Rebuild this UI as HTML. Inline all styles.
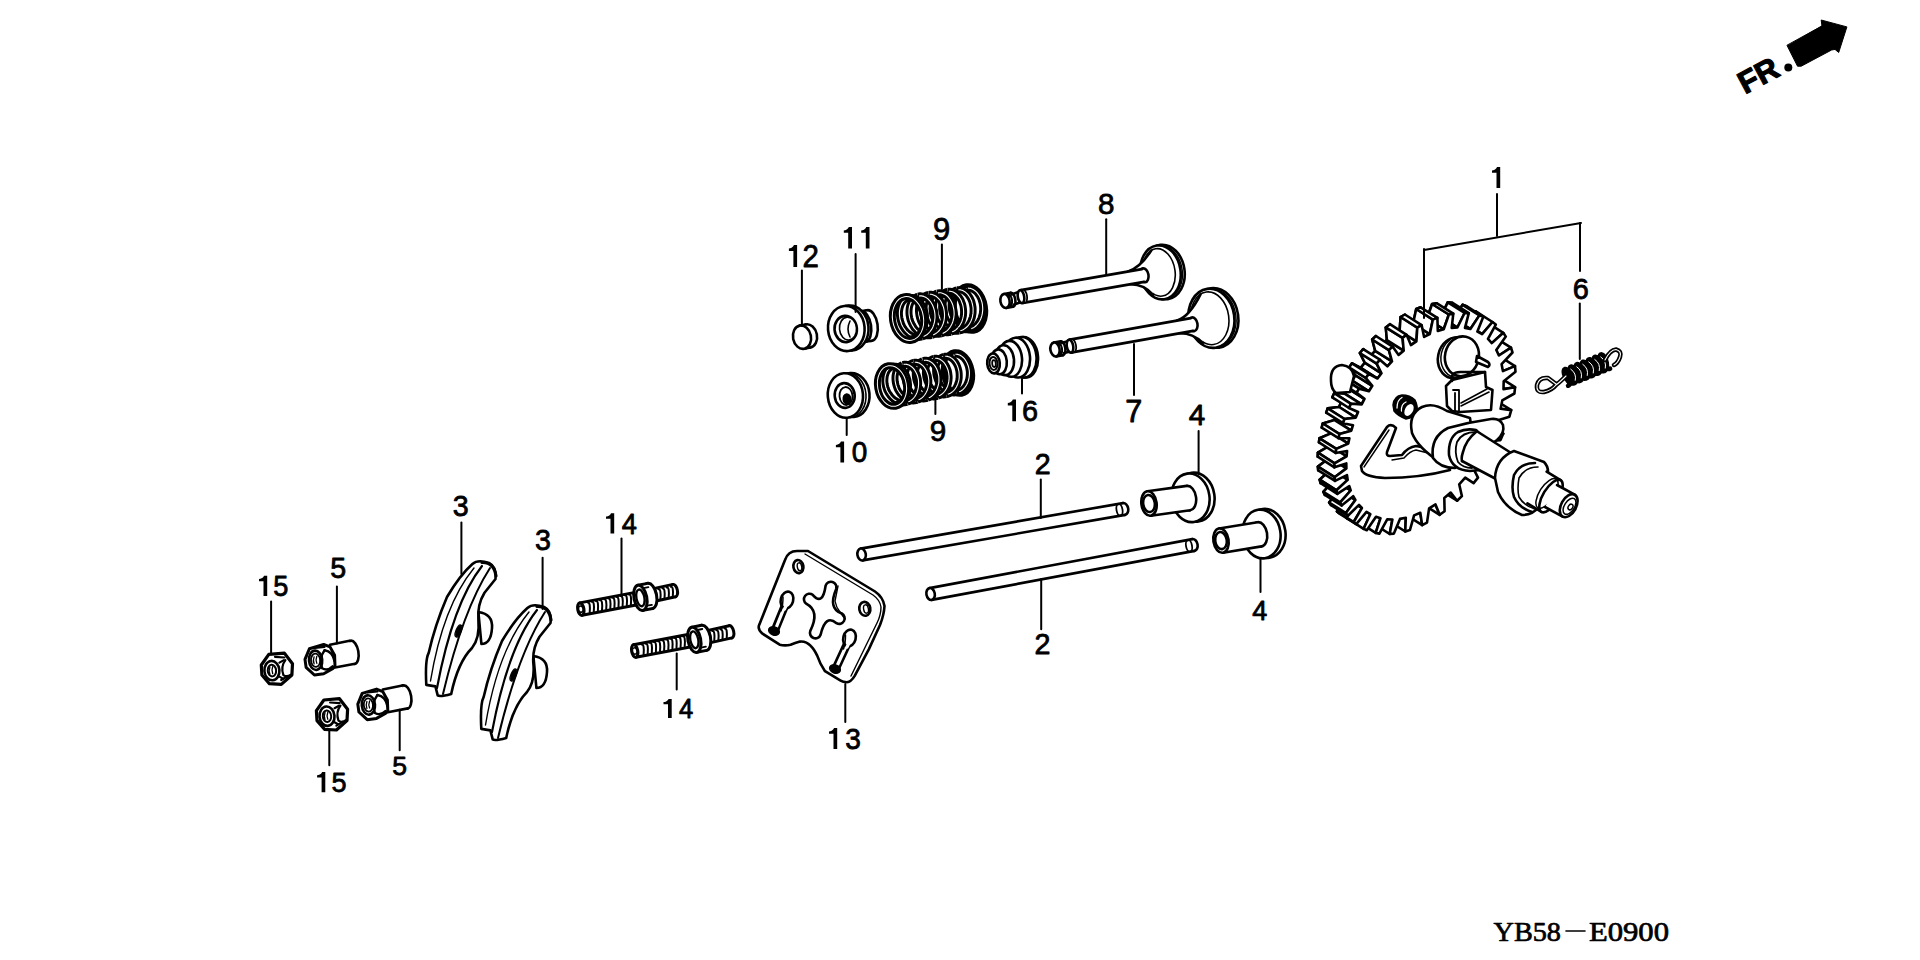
<!DOCTYPE html><html><head><meta charset="utf-8"><style>html,body{margin:0;padding:0;background:#fff;width:1920px;height:960px;overflow:hidden}svg{display:block;font-family:"Liberation Sans",sans-serif}</style></head><body>
<svg width="1920" height="960" viewBox="0 0 1920 960"><rect width="1920" height="960" fill="#fff"/>
<g fill="none" stroke="#000" stroke-linejoin="round" stroke-linecap="round">
<ellipse cx="1124" cy="509" rx="4.2" ry="6" transform="rotate(-9.8 1124 509)" fill="#fff" stroke-width="2.6"/>
<polygon points="862.6,560.4 1125,514.9 1123,503.1 860.6,548.6" fill="#fff" stroke="none"/>
<line x1="862.6" y1="560.4" x2="1125" y2="514.9" stroke-width="2.6"/>
<line x1="1123" y1="503.1" x2="860.6" y2="548.6" stroke-width="2.6"/>
<ellipse cx="861.6" cy="554.5" rx="4.2" ry="6" transform="rotate(-9.8 861.6 554.5)" fill="#fff" stroke-width="2.6"/>
<ellipse cx="1119.5" cy="509.8" rx="3" ry="6" transform="rotate(-9.8 1119.5 509.8)" fill="none" stroke-width="1.8"/>
<ellipse cx="1193.4" cy="545" rx="4.2" ry="6" transform="rotate(-10.6 1193.4 545)" fill="#fff" stroke-width="2.6"/>
<polygon points="931.7,599.9 1194.5,550.9 1192.3,539.1 929.5,588.1" fill="#fff" stroke="none"/>
<line x1="931.7" y1="599.9" x2="1194.5" y2="550.9" stroke-width="2.6"/>
<line x1="1192.3" y1="539.1" x2="929.5" y2="588.1" stroke-width="2.6"/>
<ellipse cx="930.6" cy="594" rx="4.2" ry="6" transform="rotate(-10.6 930.6 594)" fill="#fff" stroke-width="2.6"/>
<ellipse cx="1189" cy="545.9" rx="3" ry="6" transform="rotate(-10.6 1189 545.9)" fill="none" stroke-width="1.8"/>
<ellipse cx="1195" cy="497.2" rx="19.5" ry="24.6" transform="rotate(-8 1195 497.2)" fill="#fff" stroke-width="2.6"/>
<ellipse cx="1190.5" cy="497.8" rx="19" ry="24.4" transform="rotate(-8 1190.5 497.8)" fill="#fff" stroke-width="2.6"/>
<ellipse cx="1188.5" cy="498.1" rx="7.6" ry="12.3" transform="rotate(-7.8 1188.5 498.1)" fill="#fff" stroke-width="2.6"/>
<polygon points="1150.7,515.7 1190.2,510.3 1186.8,485.9 1147.3,491.3" fill="#fff" stroke="none"/>
<line x1="1150.7" y1="515.7" x2="1190.2" y2="510.3" stroke-width="2.6"/>
<line x1="1186.8" y1="485.9" x2="1147.3" y2="491.3" stroke-width="2.6"/>
<ellipse cx="1149" cy="503.5" rx="7.6" ry="12.3" transform="rotate(-7.8 1149 503.5)" fill="#fff" stroke-width="2.6"/>
<ellipse cx="1149" cy="503.5" rx="5.8" ry="8.6" transform="rotate(-8 1149 503.5)" fill="#fff" stroke-width="2.6"/>
<ellipse cx="1266" cy="533.4" rx="19.5" ry="24.6" transform="rotate(-8 1266 533.4)" fill="#fff" stroke-width="2.6"/>
<ellipse cx="1261.5" cy="534" rx="19" ry="24.4" transform="rotate(-8 1261.5 534)" fill="#fff" stroke-width="2.6"/>
<ellipse cx="1259.5" cy="534.3" rx="7.6" ry="12.3" transform="rotate(-9.3 1259.5 534.3)" fill="#fff" stroke-width="2.6"/>
<polygon points="1223,552.7 1261.5,546.4 1257.5,522.2 1219,528.5" fill="#fff" stroke="none"/>
<line x1="1223" y1="552.7" x2="1261.5" y2="546.4" stroke-width="2.6"/>
<line x1="1257.5" y1="522.2" x2="1219" y2="528.5" stroke-width="2.6"/>
<ellipse cx="1221" cy="540.6" rx="7.6" ry="12.3" transform="rotate(-9.3 1221 540.6)" fill="#fff" stroke-width="2.6"/>
<ellipse cx="1221" cy="540.6" rx="5.8" ry="8.6" transform="rotate(-8 1221 540.6)" fill="#fff" stroke-width="2.6"/>
<ellipse cx="674.3" cy="590.6" rx="3.1" ry="6.3" transform="rotate(-12.2 674.3 590.6)" fill="#fff" stroke-width="3"/>
<polygon points="645.6,603.3 675.6,596.8 673,584.4 643,590.9" fill="#fff" stroke="none"/>
<line x1="645.6" y1="603.3" x2="675.6" y2="596.8" stroke-width="3"/>
<line x1="673" y1="584.4" x2="643" y2="590.9" stroke-width="3"/>
<ellipse cx="644.3" cy="597.1" rx="3.1" ry="6.3" transform="rotate(-12.2 644.3 597.1)" fill="#fff" stroke-width="3"/>
<path d="M650.2 590.8 q2.9 -0.6 2 9.9" stroke-width="2"/>
<path d="M654.3 590 q2.9 -0.6 2 9.9" stroke-width="2"/>
<path d="M658.4 589.2 q2.9 -0.6 2 9.9" stroke-width="2"/>
<path d="M662.5 588.4 q2.9 -0.6 2 9.9" stroke-width="2"/>
<path d="M666.7 587.5 q2.9 -0.6 2 9.9" stroke-width="2"/>
<path d="M670.8 586.7 q2.9 -0.6 2 9.9" stroke-width="2"/>
<polygon points="582,615.3 645.5,603.3 643.1,590.9 579.6,602.9" fill="#fff" stroke="none"/>
<line x1="582" y1="615.3" x2="645.5" y2="603.3" stroke-width="3"/>
<line x1="643.1" y1="590.9" x2="579.6" y2="602.9" stroke-width="3"/>
<ellipse cx="580.8" cy="609.1" rx="3.1" ry="6.3" transform="rotate(-10.7 580.8 609.1)" fill="#fff" stroke-width="3"/>
<path d="M587.7 602.6 q2.9 -0.6 2 9.9" stroke-width="2"/>
<path d="M591.8 601.8 q2.9 -0.6 2 9.9" stroke-width="2"/>
<path d="M595.9 601 q2.9 -0.6 2 9.9" stroke-width="2"/>
<path d="M600 600.2 q2.9 -0.6 2 9.9" stroke-width="2"/>
<path d="M604.2 599.3 q2.9 -0.6 2 9.9" stroke-width="2"/>
<path d="M608.3 598.5 q2.9 -0.6 2 9.9" stroke-width="2"/>
<path d="M612.4 597.7 q2.9 -0.6 2 9.9" stroke-width="2"/>
<path d="M616.5 596.9 q2.9 -0.6 2 9.9" stroke-width="2"/>
<path d="M620.6 596.1 q2.9 -0.6 2 9.9" stroke-width="2"/>
<path d="M624.8 595.3 q2.9 -0.6 2 9.9" stroke-width="2"/>
<path d="M628.9 594.5 q2.9 -0.6 2 9.9" stroke-width="2"/>
<path d="M633 593.6 q2.9 -0.6 2 9.9" stroke-width="2"/>
<path d="M637.1 592.8 q2.9 -0.6 2 9.9" stroke-width="2"/>
<ellipse cx="580.8" cy="609.1" rx="2.2" ry="3.2" transform="rotate(-11.2 580.8 609.1)" fill="#fff" stroke-width="1.5"/>
<ellipse cx="650.2" cy="595.9" rx="6.4" ry="12.8" transform="rotate(-11.2 650.2 595.9)" fill="#fff" stroke-width="3"/>
<polygon points="642.9,610.4 652.7,608.5 647.7,583.4 637.9,585.3" fill="#fff" stroke="none"/>
<line x1="642.9" y1="610.4" x2="652.7" y2="608.5" stroke-width="3"/>
<line x1="647.7" y1="583.4" x2="637.9" y2="585.3" stroke-width="3"/>
<ellipse cx="640.4" cy="597.9" rx="6.4" ry="12.8" transform="rotate(-11.2 640.4 597.9)" fill="#fff" stroke-width="3"/>
<line x1="643.5" y1="588.1" x2="648.4" y2="587.1" stroke-width="1.8"/>
<line x1="647" y1="605.7" x2="651.9" y2="604.8" stroke-width="1.8"/>
<ellipse cx="640.4" cy="597.9" rx="4" ry="8.5" transform="rotate(-11.2 640.4 597.9)" fill="#fff" stroke-width="2.4"/>
<ellipse cx="730.6" cy="631.8" rx="3.1" ry="6.3" transform="rotate(-12.5 730.6 631.8)" fill="#fff" stroke-width="3"/>
<polygon points="699.6,645.1 732,637.9 729.2,625.7 696.8,632.9" fill="#fff" stroke="none"/>
<line x1="699.6" y1="645.1" x2="732" y2="637.9" stroke-width="3"/>
<line x1="729.2" y1="625.7" x2="696.8" y2="632.9" stroke-width="3"/>
<ellipse cx="698.2" cy="639" rx="3.1" ry="6.3" transform="rotate(-12.5 698.2 639)" fill="#fff" stroke-width="3"/>
<path d="M704.1 632.7 q2.9 -0.6 2 9.9" stroke-width="2"/>
<path d="M708.2 631.9 q2.9 -0.6 2 9.9" stroke-width="2"/>
<path d="M712.3 631 q2.9 -0.6 2 9.9" stroke-width="2"/>
<path d="M716.4 630.2 q2.9 -0.6 2 9.9" stroke-width="2"/>
<path d="M720.5 629.4 q2.9 -0.6 2 9.9" stroke-width="2"/>
<path d="M724.7 628.6 q2.9 -0.6 2 9.9" stroke-width="2"/>
<polygon points="635.9,657.2 699.4,645.2 697,632.8 633.5,644.8" fill="#fff" stroke="none"/>
<line x1="635.9" y1="657.2" x2="699.4" y2="645.2" stroke-width="3"/>
<line x1="697" y1="632.8" x2="633.5" y2="644.8" stroke-width="3"/>
<ellipse cx="634.7" cy="651" rx="3.1" ry="6.3" transform="rotate(-10.7 634.7 651)" fill="#fff" stroke-width="3"/>
<path d="M641.6 644.5 q2.9 -0.6 2 9.9" stroke-width="2"/>
<path d="M645.7 643.7 q2.9 -0.6 2 9.9" stroke-width="2"/>
<path d="M649.8 642.8 q2.9 -0.6 2 9.9" stroke-width="2"/>
<path d="M653.9 642 q2.9 -0.6 2 9.9" stroke-width="2"/>
<path d="M658 641.2 q2.9 -0.6 2 9.9" stroke-width="2"/>
<path d="M662.1 640.4 q2.9 -0.6 2 9.9" stroke-width="2"/>
<path d="M666.3 639.5 q2.9 -0.6 2 9.9" stroke-width="2"/>
<path d="M670.4 638.7 q2.9 -0.6 2 9.9" stroke-width="2"/>
<path d="M674.5 637.9 q2.9 -0.6 2 9.9" stroke-width="2"/>
<path d="M678.6 637.1 q2.9 -0.6 2 9.9" stroke-width="2"/>
<path d="M682.7 636.2 q2.9 -0.6 2 9.9" stroke-width="2"/>
<path d="M686.9 635.4 q2.9 -0.6 2 9.9" stroke-width="2"/>
<path d="M691 634.6 q2.9 -0.6 2 9.9" stroke-width="2"/>
<ellipse cx="634.7" cy="651" rx="2.2" ry="3.2" transform="rotate(-11.3 634.7 651)" fill="#fff" stroke-width="1.5"/>
<ellipse cx="704.1" cy="637.8" rx="6.4" ry="12.8" transform="rotate(-11.3 704.1 637.8)" fill="#fff" stroke-width="3"/>
<polygon points="696.8,652.3 706.6,650.4 701.6,625.3 691.8,627.2" fill="#fff" stroke="none"/>
<line x1="696.8" y1="652.3" x2="706.6" y2="650.4" stroke-width="3"/>
<line x1="701.6" y1="625.3" x2="691.8" y2="627.2" stroke-width="3"/>
<ellipse cx="694.3" cy="639.8" rx="6.4" ry="12.8" transform="rotate(-11.3 694.3 639.8)" fill="#fff" stroke-width="3"/>
<line x1="697.4" y1="630" x2="702.3" y2="629" stroke-width="1.8"/>
<line x1="700.9" y1="647.6" x2="705.9" y2="646.6" stroke-width="1.8"/>
<ellipse cx="694.3" cy="639.8" rx="4" ry="8.5" transform="rotate(-11.3 694.3 639.8)" fill="#fff" stroke-width="2.4"/>
<ellipse cx="1164" cy="272" rx="20.6" ry="27.4" transform="rotate(-8 1164 272)" fill="#fff" stroke-width="2.6"/>
<ellipse cx="1162.5" cy="272.2" rx="19.8" ry="26.8" transform="rotate(-8 1162.5 272.2)" fill="#fff" stroke-width="1.4"/>
<ellipse cx="1160.5" cy="272.4" rx="20.1" ry="27.1" transform="rotate(-8 1160.5 272.4)" fill="#fff" stroke-width="2.6"/>
<ellipse cx="1159" cy="272.4" rx="16.1" ry="23.9" transform="rotate(-8 1159 272.4)" fill="#fff" stroke-width="1.6"/>
<path d="M1128.1 271.5 Q1139.7 268.2 1151.2 250.5 L1153.2 294.9 Q1142.4 283.5 1130.3 284.3 Z" fill="#fff" stroke-width="0"/>
<path d="M1128.1 271.5 Q1140.6 267.3 1151.2 250.5 M1130.3 284.3 Q1143.5 284 1153.2 294.9" stroke-width="2.6"/>
<ellipse cx="1144" cy="275.3" rx="4.5" ry="7" transform="rotate(-9.8 1144 275.3)" fill="#fff" stroke-width="2.6"/>
<polygon points="1023.1,302.9 1144.1,281.9 1141.9,269.1 1020.9,290.1" fill="#fff" stroke="none"/>
<line x1="1023.1" y1="302.9" x2="1144.1" y2="281.9" stroke-width="2.6"/>
<line x1="1141.9" y1="269.1" x2="1020.9" y2="290.1" stroke-width="2.6"/>
<ellipse cx="1022" cy="296.5" rx="3.6" ry="6.5" transform="rotate(-9.8 1022 296.5)" fill="#fff" stroke-width="2.6"/>
<ellipse cx="1024" cy="296.2" rx="3" ry="6.5" transform="rotate(-9.8 1024 296.2)" fill="#fff" stroke-width="1.8"/>
<polygon points="1013.6,304.7 1022.7,301.6 1019.3,291.8 1010.2,294.9" fill="#fff" stroke="none"/>
<line x1="1013.6" y1="304.7" x2="1022.7" y2="301.6" stroke-width="2.6"/>
<line x1="1019.3" y1="291.8" x2="1010.2" y2="294.9" stroke-width="2.6"/>
<ellipse cx="1021" cy="296.7" rx="3.2" ry="6.5" transform="rotate(-9.8 1021 296.7)" fill="#fff" stroke-width="2.6"/>
<polygon points="1006.2,307.9 1013.1,306.7 1010.7,292.9 1003.8,294.1" fill="#fff" stroke="none"/>
<line x1="1006.2" y1="307.9" x2="1013.1" y2="306.7" stroke-width="2.6"/>
<line x1="1010.7" y1="292.9" x2="1003.8" y2="294.1" stroke-width="2.6"/>
<ellipse cx="1011.9" cy="299.8" rx="3.4" ry="7" transform="rotate(-9.8 1011.9 299.8)" fill="none" stroke-width="2.6"/>
<ellipse cx="1008.4" cy="300.4" rx="3.6" ry="6.6" transform="rotate(-9.8 1008.4 300.4)" fill="none" stroke-width="2"/>
<ellipse cx="1005" cy="301" rx="4.6" ry="7" transform="rotate(-9.8 1005 301)" fill="#fff" stroke-width="2.6"/>
<ellipse cx="1214.9" cy="317.9" rx="23.4" ry="30" transform="rotate(-8 1214.9 317.9)" fill="#fff" stroke-width="2.6"/>
<ellipse cx="1213.4" cy="318.1" rx="22.6" ry="29.4" transform="rotate(-8 1213.4 318.1)" fill="#fff" stroke-width="1.4"/>
<ellipse cx="1211.4" cy="318.3" rx="22.9" ry="29.7" transform="rotate(-8 1211.4 318.3)" fill="#fff" stroke-width="2.6"/>
<ellipse cx="1209.9" cy="318.3" rx="18.9" ry="26.5" transform="rotate(-8 1209.9 318.3)" fill="#fff" stroke-width="1.6"/>
<path d="M1177.1 320.5 Q1188.7 317.2 1200.5 294.3 L1202.9 342.9 Q1191.4 332.5 1179.4 333.3 Z" fill="#fff" stroke-width="0"/>
<path d="M1177.1 320.5 Q1189.5 316.4 1200.5 294.3 M1179.4 333.3 Q1192.5 333 1202.9 342.9" stroke-width="2.6"/>
<ellipse cx="1193" cy="324.3" rx="4.5" ry="7" transform="rotate(-10.1 1193 324.3)" fill="#fff" stroke-width="2.6"/>
<polygon points="1072.1,352.4 1193.1,330.9 1190.9,318.1 1069.9,339.6" fill="#fff" stroke="none"/>
<line x1="1072.1" y1="352.4" x2="1193.1" y2="330.9" stroke-width="2.6"/>
<line x1="1190.9" y1="318.1" x2="1069.9" y2="339.6" stroke-width="2.6"/>
<ellipse cx="1071" cy="346" rx="3.6" ry="6.5" transform="rotate(-10.1 1071 346)" fill="#fff" stroke-width="2.6"/>
<ellipse cx="1073" cy="345.7" rx="3" ry="6.5" transform="rotate(-10.1 1073 345.7)" fill="#fff" stroke-width="1.8"/>
<polygon points="1063.2,353.3 1071.3,351.2 1068.7,341.1 1060.6,343.2" fill="#fff" stroke="none"/>
<line x1="1063.2" y1="353.3" x2="1071.3" y2="351.2" stroke-width="2.6"/>
<line x1="1068.7" y1="341.1" x2="1060.6" y2="343.2" stroke-width="2.6"/>
<ellipse cx="1070" cy="346.2" rx="3.2" ry="6.5" transform="rotate(-10.1 1070 346.2)" fill="#fff" stroke-width="2.6"/>
<polygon points="1056.2,356.4 1063.1,355.2 1060.7,341.4 1053.8,342.6" fill="#fff" stroke="none"/>
<line x1="1056.2" y1="356.4" x2="1063.1" y2="355.2" stroke-width="2.6"/>
<line x1="1060.7" y1="341.4" x2="1053.8" y2="342.6" stroke-width="2.6"/>
<ellipse cx="1061.9" cy="348.3" rx="3.4" ry="7" transform="rotate(-10.1 1061.9 348.3)" fill="none" stroke-width="2.6"/>
<ellipse cx="1058.4" cy="348.9" rx="3.6" ry="6.6" transform="rotate(-10.1 1058.4 348.9)" fill="none" stroke-width="2"/>
<ellipse cx="1055" cy="349.5" rx="4.6" ry="7" transform="rotate(-10.1 1055 349.5)" fill="#fff" stroke-width="2.6"/>
<ellipse cx="970" cy="308.5" rx="15.5" ry="23" transform="rotate(-9 970 308.5)" fill="#fff" stroke-width="5"/>
<polyline points="908.3,297.8 907.2,298.2 906.1,298.7 905.1,299.5 904.1,300.3 903.2,301.3 902.4,302.4 901.7,303.6 901.1,304.9 900.5,306.4 900.1,307.9 899.8,309.4 899.5,311.1 899.4,312.8 899.4,314.5 899.6,316.3 899.8,318 900.2,319.8 900.7,321.5 901.2,323.2 901.9,324.9 902.7,326.5 903.6,328 904.6,329.4 905.7,330.8 906.8,332 908.1,333.2 909.4,334.2 910.7,335.1 912.1,335.8 913.5,336.4 915,336.9 916.4,337.2 917.9,337.4 919.4,337.4 920.8,337.2 922.2,336.9" stroke-width="7" stroke-linecap="butt"/>
<polyline points="907.2,298.2 906.1,298.7 905.1,299.5 904.1,300.3 903.2,301.3 902.4,302.4 901.7,303.6 901.1,304.9 900.5,306.4 900.1,307.9 899.8,309.4 899.5,311.1 899.4,312.8 899.4,314.5 899.6,316.3 899.8,318 900.2,319.8 900.7,321.5 901.2,323.2 901.9,324.9 902.7,326.5 903.6,328 904.6,329.4 905.7,330.8 906.8,332 908.1,333.2 909.4,334.2 910.7,335.1 912.1,335.8 913.5,336.4 915,336.9 916.4,337.2 917.9,337.4 919.4,337.4 920.8,337.2" stroke="#fff" stroke-width="1.1" stroke-linecap="butt"/>
<polyline points="917.9,296.2 916.8,296.6 915.7,297.2 914.6,297.9 913.7,298.8 912.8,299.7 912,300.8 911.2,302.1 910.6,303.4 910.1,304.8 909.6,306.3 909.3,307.9 909.1,309.6 909,311.2 909,313 909.1,314.7 909.4,316.5 909.7,318.2 910.2,320 910.8,321.7 911.5,323.3 912.3,324.9 913.2,326.4 914.1,327.9 915.2,329.2 916.4,330.5 917.6,331.6 918.9,332.7 920.2,333.5 921.6,334.3 923,334.9 924.5,335.4 926,335.7 927.4,335.8 928.9,335.8 930.3,335.7 931.8,335.4" stroke-width="7" stroke-linecap="butt"/>
<polyline points="916.8,296.6 915.7,297.2 914.6,297.9 913.7,298.8 912.8,299.7 912,300.8 911.2,302.1 910.6,303.4 910.1,304.8 909.6,306.3 909.3,307.9 909.1,309.6 909,311.2 909,313 909.1,314.7 909.4,316.5 909.7,318.2 910.2,320 910.8,321.7 911.5,323.3 912.3,324.9 913.2,326.4 914.1,327.9 915.2,329.2 916.4,330.5 917.6,331.6 918.9,332.7 920.2,333.5 921.6,334.3 923,334.9 924.5,335.4 926,335.7 927.4,335.8 928.9,335.8 930.3,335.7" stroke="#fff" stroke-width="1.1" stroke-linecap="butt"/>
<polyline points="928.6,294.4 927.4,294.7 926.3,295.1 925.2,295.7 924.2,296.4 923.2,297.2 922.3,298.2 921.5,299.3 920.8,300.5 920.1,301.9 919.6,303.3 919.2,304.8 918.8,306.4 918.6,308 918.5,309.7 918.5,311.4 918.7,313.2 918.9,314.9 919.3,316.7 919.7,318.4 920.3,320.1 921,321.8 921.8,323.4 922.7,324.9 923.7,326.4 924.8,327.7 925.9,329 927.1,330.1 928.4,331.1 929.8,332 931.2,332.7 932.6,333.4 934,333.8 935.5,334.1 937,334.3 938.4,334.3 939.9,334.1 941.3,333.8" stroke-width="7" stroke-linecap="butt"/>
<polyline points="927.4,294.7 926.3,295.1 925.2,295.7 924.2,296.4 923.2,297.2 922.3,298.2 921.5,299.3 920.8,300.5 920.1,301.9 919.6,303.3 919.2,304.8 918.8,306.4 918.6,308 918.5,309.7 918.5,311.4 918.7,313.2 918.9,314.9 919.3,316.7 919.7,318.4 920.3,320.1 921,321.8 921.8,323.4 922.7,324.9 923.7,326.4 924.8,327.7 925.9,329 927.1,330.1 928.4,331.1 929.8,332 931.2,332.7 932.6,333.4 934,333.8 935.5,334.1 937,334.3 938.4,334.3 939.9,334.1" stroke="#fff" stroke-width="1.1" stroke-linecap="butt"/>
<polyline points="937,293.1 935.8,293.6 934.8,294.1 933.7,294.8 932.8,295.7 931.9,296.7 931,297.8 930.3,299 929.7,300.3 929.1,301.7 928.7,303.3 928.4,304.8 928.2,306.5 928,308.2 928.1,309.9 928.2,311.6 928.4,313.4 928.8,315.1 929.3,316.9 929.9,318.6 930.5,320.2 931.3,321.8 932.2,323.4 933.2,324.8 934.3,326.2 935.5,327.4 936.7,328.6 938,329.6 939.3,330.5 940.7,331.2 942.1,331.8 943.6,332.3 945,332.6 946.5,332.7 948,332.7 949.4,332.6 950.8,332.3" stroke-width="7" stroke-linecap="butt"/>
<polyline points="935.8,293.6 934.8,294.1 933.7,294.8 932.8,295.7 931.9,296.7 931,297.8 930.3,299 929.7,300.3 929.1,301.7 928.7,303.3 928.4,304.8 928.2,306.5 928,308.2 928.1,309.9 928.2,311.6 928.4,313.4 928.8,315.1 929.3,316.9 929.9,318.6 930.5,320.2 931.3,321.8 932.2,323.4 933.2,324.8 934.3,326.2 935.5,327.4 936.7,328.6 938,329.6 939.3,330.5 940.7,331.2 942.1,331.8 943.6,332.3 945,332.6 946.5,332.7 948,332.7 949.4,332.6" stroke="#fff" stroke-width="1.1" stroke-linecap="butt"/>
<polyline points="947.7,291.3 946.5,291.6 945.4,292 944.3,292.6 943.3,293.3 942.3,294.1 941.4,295.1 940.6,296.2 939.9,297.5 939.2,298.8 938.7,300.2 938.2,301.7 937.9,303.3 937.7,304.9 937.6,306.6 937.6,308.4 937.7,310.1 938,311.9 938.3,313.6 938.8,315.3 939.4,317 940.1,318.7 940.9,320.3 941.8,321.8 942.8,323.3 943.8,324.6 945,325.9 946.2,327 947.5,328 948.8,328.9 950.2,329.7 951.7,330.3 953.1,330.7 954.6,331 956,331.2 957.5,331.2 959,331" stroke-width="7" stroke-linecap="butt"/>
<polyline points="946.5,291.6 945.4,292 944.3,292.6 943.3,293.3 942.3,294.1 941.4,295.1 940.6,296.2 939.9,297.5 939.2,298.8 938.7,300.2 938.2,301.7 937.9,303.3 937.7,304.9 937.6,306.6 937.6,308.4 937.7,310.1 938,311.9 938.3,313.6 938.8,315.3 939.4,317 940.1,318.7 940.9,320.3 941.8,321.8 942.8,323.3 943.8,324.6 945,325.9 946.2,327 947.5,328 948.8,328.9 950.2,329.7 951.7,330.3 953.1,330.7 954.6,331 956,331.2 957.5,331.2" stroke="#fff" stroke-width="1.1" stroke-linecap="butt"/>
<polyline points="957.2,289.8 956,290.1 954.9,290.5 953.8,291.1 952.8,291.8 951.8,292.6 950.9,293.6 950.1,294.7 949.4,295.9 948.8,297.2 948.2,298.7 947.8,300.2 947.4,301.8 947.2,303.4 947.1,305.1 947.1,306.8 947.3,308.6 947.5,310.3 947.9,312.1 948.3,313.8 948.9,315.5 949.6,317.2 950.4,318.8 951.3,320.3 952.3,321.7 953.4,323.1 954.5,324.3 955.8,325.5 957,326.5 958.4,327.4 959.8,328.1 961.2,328.7 962.6,329.2 964.1,329.5 965.6,329.7 967,329.7 968.5,329.5 969.9,329.2" stroke-width="7" stroke-linecap="butt"/>
<polyline points="956,290.1 954.9,290.5 953.8,291.1 952.8,291.8 951.8,292.6 950.9,293.6 950.1,294.7 949.4,295.9 948.8,297.2 948.2,298.7 947.8,300.2 947.4,301.8 947.2,303.4 947.1,305.1 947.1,306.8 947.3,308.6 947.5,310.3 947.9,312.1 948.3,313.8 948.9,315.5 949.6,317.2 950.4,318.8 951.3,320.3 952.3,321.7 953.4,323.1 954.5,324.3 955.8,325.5 957,326.5 958.4,327.4 959.8,328.1 961.2,328.7 962.6,329.2 964.1,329.5 965.6,329.7 967,329.7 968.5,329.5" stroke="#fff" stroke-width="1.1" stroke-linecap="butt"/>
<polyline points="966.7,288.3" stroke-width="7" stroke-linecap="butt"/>
<polyline points="966.7,288.3" stroke="#fff" stroke-width="1.1" stroke-linecap="butt"/>
<polyline points="911.3,338.7 912.7,338.4 914.1,338 915.4,337.4 916.7,336.6 918,335.7 919.1,334.7 920.2,333.5 921.2,332.3 922.1,330.9 922.9,329.4 923.6,327.9 924.2,326.3 924.7,324.6 925,322.9 925.3,321.1 925.4,319.3 925.5,317.5 925.4,315.7 925.2,313.9 924.8,312.2 924.4,310.5 923.9,308.8 923.2,307.3 922.5,305.8 921.7,304.4 920.8,303.1 919.9,301.9 918.8,300.8 917.8,299.9 916.6,299.1 915.5,298.5 914.3,298 913.1,297.6 911.9,297.4 910.7,297.4 909.5,297.5 908.3,297.8" stroke-width="7" stroke-linecap="butt"/>
<polyline points="912.7,338.4 914.1,338 915.4,337.4 916.7,336.6 918,335.7 919.1,334.7 920.2,333.5 921.2,332.3 922.1,330.9 922.9,329.4 923.6,327.9 924.2,326.3 924.7,324.6 925,322.9 925.3,321.1 925.4,319.3 925.5,317.5 925.4,315.7 925.2,313.9 924.8,312.2 924.4,310.5 923.9,308.8 923.2,307.3 922.5,305.8 921.7,304.4 920.8,303.1 919.9,301.9 918.8,300.8 917.8,299.9 916.6,299.1 915.5,298.5 914.3,298 913.1,297.6 911.9,297.4 910.7,297.4 909.5,297.5" stroke="#fff" stroke-width="1.1" stroke-linecap="butt"/>
<polyline points="922.2,336.9 923.6,336.4 925,335.8 926.3,335.1 927.5,334.2 928.6,333.2 929.7,332 930.7,330.7 931.6,329.4 932.4,327.9 933.1,326.4 933.7,324.7 934.2,323 934.6,321.3 934.8,319.5 935,317.8 935,316 934.9,314.2 934.7,312.4 934.4,310.6 933.9,308.9 933.4,307.3 932.8,305.7 932.1,304.2 931.2,302.8 930.4,301.5 929.4,300.4 928.4,299.3 927.3,298.4 926.2,297.6 925,296.9 923.8,296.4 922.6,296.1 921.4,295.9 920.2,295.8 919,296 917.9,296.2" stroke-width="7" stroke-linecap="butt"/>
<polyline points="923.6,336.4 925,335.8 926.3,335.1 927.5,334.2 928.6,333.2 929.7,332 930.7,330.7 931.6,329.4 932.4,327.9 933.1,326.4 933.7,324.7 934.2,323 934.6,321.3 934.8,319.5 935,317.8 935,316 934.9,314.2 934.7,312.4 934.4,310.6 933.9,308.9 933.4,307.3 932.8,305.7 932.1,304.2 931.2,302.8 930.4,301.5 929.4,300.4 928.4,299.3 927.3,298.4 926.2,297.6 925,296.9 923.8,296.4 922.6,296.1 921.4,295.9 920.2,295.8 919,296" stroke="#fff" stroke-width="1.1" stroke-linecap="butt"/>
<polyline points="931.8,335.4 933.2,334.9 934.5,334.3 935.8,333.5 937,332.6 938.2,331.6 939.3,330.5 940.3,329.2 941.2,327.8 942,326.4 942.7,324.8 943.3,323.2 943.8,321.5 944.1,319.8 944.4,318 944.5,316.2 944.5,314.4 944.4,312.6 944.2,310.8 943.9,309.1 943.5,307.4 942.9,305.8 942.3,304.2 941.6,302.7 940.8,301.3 939.9,300 938.9,298.8 937.9,297.8 936.8,296.8 935.7,296 934.6,295.4 933.4,294.9 932.2,294.5 931,294.3 929.8,294.3 928.6,294.4" stroke-width="7" stroke-linecap="butt"/>
<polyline points="933.2,334.9 934.5,334.3 935.8,333.5 937,332.6 938.2,331.6 939.3,330.5 940.3,329.2 941.2,327.8 942,326.4 942.7,324.8 943.3,323.2 943.8,321.5 944.1,319.8 944.4,318 944.5,316.2 944.5,314.4 944.4,312.6 944.2,310.8 943.9,309.1 943.5,307.4 942.9,305.8 942.3,304.2 941.6,302.7 940.8,301.3 939.9,300 938.9,298.8 937.9,297.8 936.8,296.8 935.7,296 934.6,295.4 933.4,294.9 932.2,294.5 931,294.3 929.8,294.3" stroke="#fff" stroke-width="1.1" stroke-linecap="butt"/>
<polyline points="941.3,333.8 942.7,333.4 944,332.7 945.3,332 946.6,331.1 947.7,330.1 948.8,328.9 949.8,327.7 950.7,326.3 951.5,324.8 952.2,323.3 952.8,321.7 953.3,320 953.7,318.2 953.9,316.5 954.1,314.7 954.1,312.9 954,311.1 953.8,309.3 953.4,307.6 953,305.9 952.5,304.2 951.9,302.7 951.1,301.2 950.3,299.8 949.4,298.5 948.5,297.3 947.5,296.2 946.4,295.3 945.3,294.5 944.1,293.9 942.9,293.4 941.7,293 940.5,292.8 939.3,292.8 938.1,292.9 937,293.1" stroke-width="7" stroke-linecap="butt"/>
<polyline points="942.7,333.4 944,332.7 945.3,332 946.6,331.1 947.7,330.1 948.8,328.9 949.8,327.7 950.7,326.3 951.5,324.8 952.2,323.3 952.8,321.7 953.3,320 953.7,318.2 953.9,316.5 954.1,314.7 954.1,312.9 954,311.1 953.8,309.3 953.4,307.6 953,305.9 952.5,304.2 951.9,302.7 951.1,301.2 950.3,299.8 949.4,298.5 948.5,297.3 947.5,296.2 946.4,295.3 945.3,294.5 944.1,293.9 942.9,293.4 941.7,293 940.5,292.8 939.3,292.8 938.1,292.9" stroke="#fff" stroke-width="1.1" stroke-linecap="butt"/>
<polyline points="950.8,332.3 952.2,331.8 953.6,331.2 954.9,330.5 956.1,329.6 957.3,328.5 958.3,327.4 959.3,326.1 960.2,324.8 961,323.3 961.8,321.7 962.3,320.1 962.8,318.4 963.2,316.7 963.5,314.9 963.6,313.1 963.6,311.3 963.5,309.5 963.3,307.8 963,306 962.6,304.3 962,302.7 961.4,301.1 960.7,299.6 959.9,298.2 959,296.9 958,295.8 957,294.7 955.9,293.8 954.8,293 953.6,292.3 952.4,291.8 951.2,291.5 950,291.3 948.8,291.2 947.7,291.3" stroke-width="7" stroke-linecap="butt"/>
<polyline points="952.2,331.8 953.6,331.2 954.9,330.5 956.1,329.6 957.3,328.5 958.3,327.4 959.3,326.1 960.2,324.8 961,323.3 961.8,321.7 962.3,320.1 962.8,318.4 963.2,316.7 963.5,314.9 963.6,313.1 963.6,311.3 963.5,309.5 963.3,307.8 963,306 962.6,304.3 962,302.7 961.4,301.1 960.7,299.6 959.9,298.2 959,296.9 958,295.8 957,294.7 955.9,293.8 954.8,293 953.6,292.3 952.4,291.8 951.2,291.5 950,291.3 948.8,291.2" stroke="#fff" stroke-width="1.1" stroke-linecap="butt"/>
<polyline points="959,331 960.4,330.7 961.8,330.3 963.1,329.7 964.4,328.9 965.6,328 966.8,327 967.9,325.9 968.9,324.6 969.8,323.2 970.6,321.8 971.3,320.2 971.9,318.6 972.4,316.9 972.7,315.2 973,313.4 973.1,311.6 973.1,309.8 973.1,308 972.8,306.2 972.5,304.5 972.1,302.8 971.6,301.1 970.9,299.6 970.2,298.1 969.4,296.7 968.5,295.4 967.6,294.2 966.5,293.2 965.5,292.2 964.3,291.4 963.2,290.8 962,290.3 960.8,289.9 959.6,289.7 958.4,289.7 957.2,289.8" stroke-width="7" stroke-linecap="butt"/>
<polyline points="960.4,330.7 961.8,330.3 963.1,329.7 964.4,328.9 965.6,328 966.8,327 967.9,325.9 968.9,324.6 969.8,323.2 970.6,321.8 971.3,320.2 971.9,318.6 972.4,316.9 972.7,315.2 973,313.4 973.1,311.6 973.1,309.8 973.1,308 972.8,306.2 972.5,304.5 972.1,302.8 971.6,301.1 970.9,299.6 970.2,298.1 969.4,296.7 968.5,295.4 967.6,294.2 966.5,293.2 965.5,292.2 964.3,291.4 963.2,290.8 962,290.3 960.8,289.9 959.6,289.7 958.4,289.7" stroke="#fff" stroke-width="1.1" stroke-linecap="butt"/>
<polyline points="969.9,329.2 971.3,328.7 972.7,328.1 974,327.4 975.2,326.5 976.3,325.5 977.4,324.3 978.4,323 979.3,321.7 980.1,320.2 980.8,318.7 981.4,317 981.9,315.4 982.3,313.6 982.5,311.9 982.7,310.1 982.7,308.3 982.6,306.5 982.4,304.7 982.1,302.9 981.6,301.2 981.1,299.6 980.5,298 979.7,296.5 978.9,295.1 978,293.9 977.1,292.7 976.1,291.6 975,290.7 973.9,289.9 972.7,289.2 971.5,288.7 970.3,288.4 969.1,288.2 967.9,288.1 966.7,288.3" stroke-width="7" stroke-linecap="butt"/>
<polyline points="971.3,328.7 972.7,328.1 974,327.4 975.2,326.5 976.3,325.5 977.4,324.3 978.4,323 979.3,321.7 980.1,320.2 980.8,318.7 981.4,317 981.9,315.4 982.3,313.6 982.5,311.9 982.7,310.1 982.7,308.3 982.6,306.5 982.4,304.7 982.1,302.9 981.6,301.2 981.1,299.6 980.5,298 979.7,296.5 978.9,295.1 978,293.9 977.1,292.7 976.1,291.6 975,290.7 973.9,289.9 972.7,289.2 971.5,288.7 970.3,288.4 969.1,288.2 967.9,288.1" stroke="#fff" stroke-width="1.1" stroke-linecap="butt"/>
<ellipse cx="908" cy="318.5" rx="15.5" ry="22" transform="rotate(-9 908 318.5)" fill="none" stroke-width="7"/>
<ellipse cx="908" cy="318.5" rx="15.5" ry="22" transform="rotate(-9 908 318.5)" stroke="#fff" stroke-width="1" fill="none"/>
<ellipse cx="958" cy="373" rx="14.4" ry="21.5" transform="rotate(-10 958 373)" fill="#fff" stroke-width="5"/>
<polyline points="892.4,366.6 891.3,367.1 890.4,367.6 889.5,368.3 888.6,369.1 887.8,370 887.1,371.1 886.5,372.2 886,373.5 885.6,374.8 885.2,376.2 885,377.7 884.9,379.2 884.8,380.8 884.9,382.4 885.1,384 885.4,385.6 885.8,387.2 886.3,388.8 886.9,390.4 887.7,391.9 888.5,393.3 889.4,394.7 890.4,396 891.4,397.2 892.5,398.3 893.7,399.4 895,400.2 896.3,401 897.6,401.7 898.9,402.2 900.3,402.6 901.7,402.8 903.1,402.9 904.5,402.8 905.8,402.6 907.2,402.3" stroke-width="7" stroke-linecap="butt"/>
<polyline points="891.3,367.1 890.4,367.6 889.5,368.3 888.6,369.1 887.8,370 887.1,371.1 886.5,372.2 886,373.5 885.6,374.8 885.2,376.2 885,377.7 884.9,379.2 884.8,380.8 884.9,382.4 885.1,384 885.4,385.6 885.8,387.2 886.3,388.8 886.9,390.4 887.7,391.9 888.5,393.3 889.4,394.7 890.4,396 891.4,397.2 892.5,398.3 893.7,399.4 895,400.2 896.3,401 897.6,401.7 898.9,402.2 900.3,402.6 901.7,402.8 903.1,402.9 904.5,402.8 905.8,402.6" stroke="#fff" stroke-width="1.1" stroke-linecap="butt"/>
<polyline points="902.5,364.6 901.5,365.1 900.5,365.6 899.6,366.3 898.8,367.1 898,368 897.3,369.1 896.7,370.2 896.1,371.5 895.7,372.8 895.4,374.2 895.1,375.7 895,377.2 895,378.8 895.1,380.4 895.3,382 895.6,383.6 896,385.2 896.5,386.8 897.1,388.4 897.8,389.9 898.6,391.3 899.5,392.7 900.5,394 901.6,395.2 902.7,396.3 903.9,397.4 905.1,398.2 906.4,399 907.7,399.7 909.1,400.2 910.5,400.6 911.9,400.8 913.2,400.9 914.6,400.8 916,400.6 917.3,400.3" stroke-width="7" stroke-linecap="butt"/>
<polyline points="901.5,365.1 900.5,365.6 899.6,366.3 898.8,367.1 898,368 897.3,369.1 896.7,370.2 896.1,371.5 895.7,372.8 895.4,374.2 895.1,375.7 895,377.2 895,378.8 895.1,380.4 895.3,382 895.6,383.6 896,385.2 896.5,386.8 897.1,388.4 897.8,389.9 898.6,391.3 899.5,392.7 900.5,394 901.6,395.2 902.7,396.3 903.9,397.4 905.1,398.2 906.4,399 907.7,399.7 909.1,400.2 910.5,400.6 911.9,400.8 913.2,400.9 914.6,400.8 916,400.6" stroke="#fff" stroke-width="1.1" stroke-linecap="butt"/>
<polyline points="913.7,362.4 912.7,362.6 911.7,363.1 910.7,363.6 909.8,364.3 908.9,365.1 908.2,366 907.5,367.1 906.8,368.2 906.3,369.5 905.9,370.8 905.5,372.2 905.3,373.7 905.2,375.2 905.1,376.8 905.2,378.4 905.4,380 905.7,381.6 906.1,383.2 906.6,384.8 907.3,386.4 908,387.9 908.8,389.3 909.7,390.7 910.7,392 911.7,393.2 912.8,394.3 914,395.4 915.3,396.2 916.6,397 917.9,397.7 919.3,398.2 920.6,398.6 922,398.8 923.4,398.9 924.8,398.8 926.1,398.6 927.5,398.3" stroke-width="7" stroke-linecap="butt"/>
<polyline points="912.7,362.6 911.7,363.1 910.7,363.6 909.8,364.3 908.9,365.1 908.2,366 907.5,367.1 906.8,368.2 906.3,369.5 905.9,370.8 905.5,372.2 905.3,373.7 905.2,375.2 905.1,376.8 905.2,378.4 905.4,380 905.7,381.6 906.1,383.2 906.6,384.8 907.3,386.4 908,387.9 908.8,389.3 909.7,390.7 910.7,392 911.7,393.2 912.8,394.3 914,395.4 915.3,396.2 916.6,397 917.9,397.7 919.3,398.2 920.6,398.6 922,398.8 923.4,398.9 924.8,398.8 926.1,398.6" stroke="#fff" stroke-width="1.1" stroke-linecap="butt"/>
<polyline points="922.8,360.6 921.8,361.1 920.8,361.6 919.9,362.3 919.1,363.1 918.3,364 917.6,365.1 917,366.2 916.5,367.5 916,368.8 915.7,370.2 915.4,371.7 915.3,373.2 915.3,374.8 915.4,376.4 915.6,378 915.9,379.6 916.3,381.2 916.8,382.8 917.4,384.4 918.1,385.9 918.9,387.3 919.8,388.7 920.8,390 921.9,391.2 923,392.3 924.2,393.4 925.4,394.2 926.7,395 928.1,395.7 929.4,396.2 930.8,396.6 932.2,396.8 933.6,396.9 934.9,396.8 936.3,396.6 937.6,396.3" stroke-width="7" stroke-linecap="butt"/>
<polyline points="921.8,361.1 920.8,361.6 919.9,362.3 919.1,363.1 918.3,364 917.6,365.1 917,366.2 916.5,367.5 916,368.8 915.7,370.2 915.4,371.7 915.3,373.2 915.3,374.8 915.4,376.4 915.6,378 915.9,379.6 916.3,381.2 916.8,382.8 917.4,384.4 918.1,385.9 918.9,387.3 919.8,388.7 920.8,390 921.9,391.2 923,392.3 924.2,393.4 925.4,394.2 926.7,395 928.1,395.7 929.4,396.2 930.8,396.6 932.2,396.8 933.6,396.9 934.9,396.8 936.3,396.6" stroke="#fff" stroke-width="1.1" stroke-linecap="butt"/>
<polyline points="934,358.4 933,358.6 932,359.1 931,359.6 930.1,360.3 929.2,361.1 928.5,362 927.8,363.1 927.1,364.2 926.6,365.5 926.2,366.8 925.8,368.2 925.6,369.7 925.5,371.2 925.4,372.8 925.5,374.4 925.7,376 926,377.6 926.4,379.2 926.9,380.8 927.6,382.4 928.3,383.9 929.1,385.3 930,386.7 931,388 932,389.2 933.2,390.3 934.3,391.4 935.6,392.2 936.9,393 938.2,393.7 939.6,394.2 940.9,394.6 942.3,394.8 943.7,394.9 945.1,394.8 946.4,394.6" stroke-width="7" stroke-linecap="butt"/>
<polyline points="933,358.6 932,359.1 931,359.6 930.1,360.3 929.2,361.1 928.5,362 927.8,363.1 927.1,364.2 926.6,365.5 926.2,366.8 925.8,368.2 925.6,369.7 925.5,371.2 925.4,372.8 925.5,374.4 925.7,376 926,377.6 926.4,379.2 926.9,380.8 927.6,382.4 928.3,383.9 929.1,385.3 930,386.7 931,388 932,389.2 933.2,390.3 934.3,391.4 935.6,392.2 936.9,393 938.2,393.7 939.6,394.2 940.9,394.6 942.3,394.8 943.7,394.9 945.1,394.8" stroke="#fff" stroke-width="1.1" stroke-linecap="butt"/>
<polyline points="944.2,356.4 943.1,356.6 942.1,357.1 941.2,357.6 940.2,358.3 939.4,359.1 938.6,360 937.9,361.1 937.3,362.2 936.8,363.5 936.3,364.8 936,366.2 935.8,367.7 935.6,369.2 935.6,370.8 935.7,372.4 935.9,374 936.2,375.6 936.6,377.2 937.1,378.8 937.7,380.4 938.4,381.9 939.2,383.3 940.1,384.7 941.1,386 942.2,387.2 943.3,388.3 944.5,389.4 945.7,390.2 947,391 948.4,391.7 949.7,392.2 951.1,392.6 952.5,392.8 953.9,392.9 955.2,392.8 956.6,392.6 957.9,392.3" stroke-width="7" stroke-linecap="butt"/>
<polyline points="943.1,356.6 942.1,357.1 941.2,357.6 940.2,358.3 939.4,359.1 938.6,360 937.9,361.1 937.3,362.2 936.8,363.5 936.3,364.8 936,366.2 935.8,367.7 935.6,369.2 935.6,370.8 935.7,372.4 935.9,374 936.2,375.6 936.6,377.2 937.1,378.8 937.7,380.4 938.4,381.9 939.2,383.3 940.1,384.7 941.1,386 942.2,387.2 943.3,388.3 944.5,389.4 945.7,390.2 947,391 948.4,391.7 949.7,392.2 951.1,392.6 952.5,392.8 953.9,392.9 955.2,392.8 956.6,392.6" stroke="#fff" stroke-width="1.1" stroke-linecap="butt"/>
<polyline points="954.3,354.4" stroke-width="7" stroke-linecap="butt"/>
<polyline points="954.3,354.4" stroke="#fff" stroke-width="1.1" stroke-linecap="butt"/>
<polyline points="895.7,404.6 897,404.3 898.3,403.8 899.5,403.2 900.7,402.5 901.9,401.6 902.9,400.6 903.9,399.5 904.8,398.3 905.6,397 906.3,395.6 907,394.2 907.5,392.6 907.9,391.1 908.2,389.4 908.4,387.8 908.5,386.1 908.5,384.4 908.3,382.8 908.1,381.1 907.8,379.5 907.3,378 906.8,376.5 906.2,375 905.5,373.7 904.7,372.4 903.9,371.2 903,370.1 902,369.2 901,368.4 899.9,367.7 898.9,367.1 897.8,366.7 896.7,366.4 895.6,366.2 894.5,366.2 893.4,366.4 892.4,366.6" stroke-width="7" stroke-linecap="butt"/>
<polyline points="897,404.3 898.3,403.8 899.5,403.2 900.7,402.5 901.9,401.6 902.9,400.6 903.9,399.5 904.8,398.3 905.6,397 906.3,395.6 907,394.2 907.5,392.6 907.9,391.1 908.2,389.4 908.4,387.8 908.5,386.1 908.5,384.4 908.3,382.8 908.1,381.1 907.8,379.5 907.3,378 906.8,376.5 906.2,375 905.5,373.7 904.7,372.4 903.9,371.2 903,370.1 902,369.2 901,368.4 899.9,367.7 898.9,367.1 897.8,366.7 896.7,366.4 895.6,366.2 894.5,366.2 893.4,366.4" stroke="#fff" stroke-width="1.1" stroke-linecap="butt"/>
<polyline points="907.2,402.3 908.4,401.8 909.7,401.2 910.9,400.5 912,399.6 913.1,398.6 914.1,397.5 915,396.3 915.8,395 916.5,393.6 917.1,392.2 917.6,390.6 918,389.1 918.3,387.4 918.5,385.8 918.6,384.1 918.6,382.4 918.5,380.8 918.3,379.1 917.9,377.5 917.5,376 917,374.5 916.3,373 915.6,371.7 914.9,370.4 914,369.2 913.1,368.1 912.2,367.2 911.1,366.4 910.1,365.7 909,365.1 907.9,364.7 906.8,364.4 905.7,364.2 904.6,364.2 903.6,364.4 902.5,364.6" stroke-width="7" stroke-linecap="butt"/>
<polyline points="908.4,401.8 909.7,401.2 910.9,400.5 912,399.6 913.1,398.6 914.1,397.5 915,396.3 915.8,395 916.5,393.6 917.1,392.2 917.6,390.6 918,389.1 918.3,387.4 918.5,385.8 918.6,384.1 918.6,382.4 918.5,380.8 918.3,379.1 917.9,377.5 917.5,376 917,374.5 916.3,373 915.6,371.7 914.9,370.4 914,369.2 913.1,368.1 912.2,367.2 911.1,366.4 910.1,365.7 909,365.1 907.9,364.7 906.8,364.4 905.7,364.2 904.6,364.2 903.6,364.4" stroke="#fff" stroke-width="1.1" stroke-linecap="butt"/>
<polyline points="917.3,400.3 918.6,399.8 919.8,399.2 921,398.5 922.2,397.6 923.2,396.6 924.2,395.5 925.1,394.3 925.9,393 926.6,391.6 927.3,390.2 927.8,388.6 928.2,387.1 928.5,385.4 928.7,383.8 928.8,382.1 928.8,380.4 928.6,378.8 928.4,377.1 928.1,375.5 927.6,374 927.1,372.5 926.5,371 925.8,369.7 925,368.4 924.2,367.2 923.3,366.1 922.3,365.2 921.3,364.4 920.3,363.7 919.2,363.1 918.1,362.7 917,362.4 915.9,362.2 914.8,362.2 913.7,362.4" stroke-width="7" stroke-linecap="butt"/>
<polyline points="918.6,399.8 919.8,399.2 921,398.5 922.2,397.6 923.2,396.6 924.2,395.5 925.1,394.3 925.9,393 926.6,391.6 927.3,390.2 927.8,388.6 928.2,387.1 928.5,385.4 928.7,383.8 928.8,382.1 928.8,380.4 928.6,378.8 928.4,377.1 928.1,375.5 927.6,374 927.1,372.5 926.5,371 925.8,369.7 925,368.4 924.2,367.2 923.3,366.1 922.3,365.2 921.3,364.4 920.3,363.7 919.2,363.1 918.1,362.7 917,362.4 915.9,362.2 914.8,362.2" stroke="#fff" stroke-width="1.1" stroke-linecap="butt"/>
<polyline points="927.5,398.3 928.8,397.8 930,397.2 931.2,396.5 932.3,395.6 933.4,394.6 934.4,393.5 935.3,392.3 936.1,391 936.8,389.6 937.4,388.2 937.9,386.6 938.3,385.1 938.7,383.4 938.9,381.8 938.9,380.1 938.9,378.4 938.8,376.8 938.6,375.1 938.2,373.5 937.8,372 937.3,370.5 936.7,369 936,367.7 935.2,366.4 934.3,365.2 933.4,364.1 932.5,363.2 931.5,362.4 930.4,361.7 929.3,361.1 928.2,360.7 927.1,360.4 926,360.2 924.9,360.2 923.9,360.4 922.8,360.6" stroke-width="7" stroke-linecap="butt"/>
<polyline points="928.8,397.8 930,397.2 931.2,396.5 932.3,395.6 933.4,394.6 934.4,393.5 935.3,392.3 936.1,391 936.8,389.6 937.4,388.2 937.9,386.6 938.3,385.1 938.7,383.4 938.9,381.8 938.9,380.1 938.9,378.4 938.8,376.8 938.6,375.1 938.2,373.5 937.8,372 937.3,370.5 936.7,369 936,367.7 935.2,366.4 934.3,365.2 933.4,364.1 932.5,363.2 931.5,362.4 930.4,361.7 929.3,361.1 928.2,360.7 927.1,360.4 926,360.2 924.9,360.2 923.9,360.4" stroke="#fff" stroke-width="1.1" stroke-linecap="butt"/>
<polyline points="937.6,396.3 938.9,395.8 940.2,395.2 941.3,394.5 942.5,393.6 943.5,392.6 944.5,391.5 945.4,390.3 946.2,389 947,387.6 947.6,386.2 948.1,384.6 948.5,383.1 948.8,381.4 949,379.8 949.1,378.1 949.1,376.4 948.9,374.8 948.7,373.1 948.4,371.5 948,370 947.4,368.5 946.8,367 946.1,365.7 945.3,364.4 944.5,363.2 943.6,362.1 942.6,361.2 941.6,360.4 940.6,359.7 939.5,359.1 938.4,358.7 937.3,358.4 936.2,358.2 935.1,358.2 934,358.4" stroke-width="7" stroke-linecap="butt"/>
<polyline points="938.9,395.8 940.2,395.2 941.3,394.5 942.5,393.6 943.5,392.6 944.5,391.5 945.4,390.3 946.2,389 947,387.6 947.6,386.2 948.1,384.6 948.5,383.1 948.8,381.4 949,379.8 949.1,378.1 949.1,376.4 948.9,374.8 948.7,373.1 948.4,371.5 948,370 947.4,368.5 946.8,367 946.1,365.7 945.3,364.4 944.5,363.2 943.6,362.1 942.6,361.2 941.6,360.4 940.6,359.7 939.5,359.1 938.4,358.7 937.3,358.4 936.2,358.2 935.1,358.2" stroke="#fff" stroke-width="1.1" stroke-linecap="butt"/>
<polyline points="946.4,394.6 947.8,394.3 949.1,393.8 950.3,393.2 951.5,392.5 952.6,391.6 953.7,390.6 954.7,389.5 955.6,388.3 956.4,387 957.1,385.6 957.7,384.2 958.2,382.6 958.7,381.1 959,379.4 959.2,377.8 959.2,376.1 959.2,374.4 959.1,372.8 958.9,371.1 958.5,369.5 958.1,368 957.6,366.5 957,365 956.3,363.7 955.5,362.4 954.6,361.2 953.7,360.1 952.8,359.2 951.8,358.4 950.7,357.7 949.6,357.1 948.5,356.7 947.4,356.4 946.3,356.2 945.2,356.2 944.2,356.4" stroke-width="7" stroke-linecap="butt"/>
<polyline points="947.8,394.3 949.1,393.8 950.3,393.2 951.5,392.5 952.6,391.6 953.7,390.6 954.7,389.5 955.6,388.3 956.4,387 957.1,385.6 957.7,384.2 958.2,382.6 958.7,381.1 959,379.4 959.2,377.8 959.2,376.1 959.2,374.4 959.1,372.8 958.9,371.1 958.5,369.5 958.1,368 957.6,366.5 957,365 956.3,363.7 955.5,362.4 954.6,361.2 953.7,360.1 952.8,359.2 951.8,358.4 950.7,357.7 949.6,357.1 948.5,356.7 947.4,356.4 946.3,356.2 945.2,356.2" stroke="#fff" stroke-width="1.1" stroke-linecap="butt"/>
<polyline points="957.9,392.3 959.2,391.8 960.5,391.2 961.7,390.5 962.8,389.6 963.8,388.6 964.8,387.5 965.7,386.3 966.5,385 967.3,383.6 967.9,382.2 968.4,380.6 968.8,379.1 969.1,377.4 969.3,375.8 969.4,374.1 969.4,372.4 969.3,370.8 969,369.1 968.7,367.5 968.3,366 967.7,364.5 967.1,363 966.4,361.7 965.6,360.4 964.8,359.2 963.9,358.1 962.9,357.2 961.9,356.4 960.9,355.7 959.8,355.1 958.7,354.7 957.6,354.4 956.5,354.2 955.4,354.2 954.3,354.4" stroke-width="7" stroke-linecap="butt"/>
<polyline points="959.2,391.8 960.5,391.2 961.7,390.5 962.8,389.6 963.8,388.6 964.8,387.5 965.7,386.3 966.5,385 967.3,383.6 967.9,382.2 968.4,380.6 968.8,379.1 969.1,377.4 969.3,375.8 969.4,374.1 969.4,372.4 969.3,370.8 969,369.1 968.7,367.5 968.3,366 967.7,364.5 967.1,363 966.4,361.7 965.6,360.4 964.8,359.2 963.9,358.1 962.9,357.2 961.9,356.4 960.9,355.7 959.8,355.1 958.7,354.7 957.6,354.4 956.5,354.2 955.4,354.2" stroke="#fff" stroke-width="1.1" stroke-linecap="butt"/>
<ellipse cx="892" cy="386" rx="14.4" ry="20.5" transform="rotate(-10 892 386)" fill="none" stroke-width="7"/>
<ellipse cx="892" cy="386" rx="14.4" ry="20.5" transform="rotate(-10 892 386)" stroke="#fff" stroke-width="1" fill="none"/>
<ellipse cx="808" cy="336" rx="9" ry="11.8" transform="rotate(-11.3 808 336)" fill="#fff" stroke-width="2.6"/>
<polygon points="804.3,348.8 810.3,347.6 805.7,324.4 799.7,325.6" fill="#fff" stroke="none"/>
<line x1="804.3" y1="348.8" x2="810.3" y2="347.6" stroke-width="2.6"/>
<line x1="805.7" y1="324.4" x2="799.7" y2="325.6" stroke-width="2.6"/>
<ellipse cx="802" cy="337.2" rx="9" ry="11.8" transform="rotate(-11.3 802 337.2)" fill="#fff" stroke-width="2.6"/>
<ellipse cx="869.5" cy="325.5" rx="8.1" ry="15.5" transform="rotate(-8.7 869.5 325.5)" fill="#fff" stroke-width="2.6"/>
<polygon points="865.4,341.8 871.9,340.8 867.1,310.2 860.6,311.2" fill="#fff" stroke="none"/>
<line x1="865.4" y1="341.8" x2="871.9" y2="340.8" stroke-width="2.6"/>
<line x1="867.1" y1="310.2" x2="860.6" y2="311.2" stroke-width="2.6"/>
<ellipse cx="863" cy="326.5" rx="8.1" ry="15.5" transform="rotate(-8.7 863 326.5)" fill="#fff" stroke-width="2.6"/>
<ellipse cx="850.5" cy="328" rx="18" ry="22.5" transform="rotate(-5 850.5 328)" fill="#fff" stroke-width="2.6"/>
<ellipse cx="846.3" cy="328.5" rx="18.3" ry="22.6" transform="rotate(-5 846.3 328.5)" fill="#fff" stroke-width="2.6"/>
<ellipse cx="845.7" cy="329" rx="11.2" ry="13.2" transform="rotate(-5 845.7 329)" fill="#fff" stroke-width="2.6"/>
<ellipse cx="848" cy="328.6" rx="8.5" ry="11.5" transform="rotate(-5 848 328.6)" fill="#fff" stroke-width="1.6"/>
<path d="M850 321 Q846 329 850 337" stroke-width="1.6"/>
<ellipse cx="852" cy="395" rx="17.5" ry="22" transform="rotate(-5 852 395)" fill="#fff" stroke-width="2.6"/>
<ellipse cx="848.5" cy="395.3" rx="17.5" ry="22.2" transform="rotate(-5 848.5 395.3)" fill="#fff" stroke-width="1.6"/>
<ellipse cx="845.4" cy="395.5" rx="17.6" ry="22.3" transform="rotate(-5 845.4 395.5)" fill="#fff" stroke-width="2.6"/>
<ellipse cx="844.7" cy="395.5" rx="10" ry="12.4" transform="rotate(-5 844.7 395.5)" fill="#fff" stroke-width="2.6"/>
<ellipse cx="846" cy="396" rx="6.5" ry="9" transform="rotate(-5 846 396)" fill="#fff" stroke-width="1.8"/>
<ellipse cx="847" cy="399" rx="3.2" ry="4.5" transform="rotate(-5 847 399)" fill="#000" stroke-width="2.6"/>
<ellipse cx="1024.5" cy="357.3" rx="13.5" ry="20.3" transform="rotate(-5 1024.5 357.3)" fill="#fff" stroke-width="2.6"/>
<ellipse cx="1023" cy="357.3" rx="13.5" ry="20.3" transform="rotate(-5 1023 357.3)" fill="#fff" stroke-width="2.6"/>
<ellipse cx="1017" cy="357.6" rx="13" ry="20" transform="rotate(-5 1017 357.6)" fill="#fff" stroke-width="2.6"/>
<ellipse cx="1010.5" cy="358.8" rx="11.5" ry="18" transform="rotate(-5 1010.5 358.8)" fill="#fff" stroke-width="2.6"/>
<ellipse cx="1004.5" cy="360.2" rx="9.5" ry="15" transform="rotate(-5 1004.5 360.2)" fill="#fff" stroke-width="2.6"/>
<ellipse cx="999" cy="361.8" rx="7.8" ry="12.5" transform="rotate(-5 999 361.8)" fill="#fff" stroke-width="2.6"/>
<ellipse cx="993.5" cy="363.4" rx="6.3" ry="10" transform="rotate(-5 993.5 363.4)" fill="#fff" stroke-width="2.6"/>
<ellipse cx="993.5" cy="363.4" rx="4" ry="6.5" transform="rotate(-5 993.5 363.4)" fill="#fff" stroke-width="2"/>
<ellipse cx="994" cy="363.6" rx="1.8" ry="3.4" transform="rotate(-5 994 363.6)" fill="#fff" stroke-width="1.8"/>
<polygon points="261.3,665 268.8,654.4 284.4,653.1 292.5,663.7 291.9,675 281.3,684.4 269.4,683.7 261.9,675" fill="#fff" stroke-width="3.2"/>
<ellipse cx="271.9" cy="670.6" rx="7.5" ry="9.7" transform="rotate(-5 271.9 670.6)" fill="#fff" stroke-width="2.6"/>
<ellipse cx="271.9" cy="670.6" rx="4.2" ry="5.8" transform="rotate(-5 271.9 670.6)" fill="#fff" stroke-width="2"/>
<path d="M269.9 667.1 q-1.5 4 0 7 M272.7 666.6 q-1.5 4 0 7" stroke-width="1.3"/>
<path d="M275 656.9 L284.4 657.5" stroke-width="2.2"/>
<path d="M285.4 660.1 Q280.4 666.6 283.4 675.1 Q286.9 677.6 290.9 674.6" stroke-width="2.2"/>
<path d="M281.2 680 L287.5 676.2" stroke-width="2.2"/>
<path d="M279.4 662.6 L283.9 660.1 M279.4 676.6 L282.9 678.6" stroke-width="2.2"/>
<polygon points="316.4,710.6 323.9,700 339.5,698.7 347.6,709.3 347,720.6 336.4,730 324.5,729.3 317,720.6" fill="#fff" stroke-width="3.2"/>
<ellipse cx="327" cy="716.2" rx="7.5" ry="9.7" transform="rotate(-5 327 716.2)" fill="#fff" stroke-width="2.6"/>
<ellipse cx="327" cy="716.2" rx="4.2" ry="5.8" transform="rotate(-5 327 716.2)" fill="#fff" stroke-width="2"/>
<path d="M325 712.7 q-1.5 4 0 7 M327.8 712.2 q-1.5 4 0 7" stroke-width="1.3"/>
<path d="M330.1 702.5 L339.5 703.1" stroke-width="2.2"/>
<path d="M340.5 705.7 Q335.5 712.2 338.5 720.7 Q342 723.2 346 720.2" stroke-width="2.2"/>
<path d="M336.4 725.6 L342.6 721.9" stroke-width="2.2"/>
<path d="M334.5 708.2 L339 705.7 M334.5 722.2 L338 724.2" stroke-width="2.2"/>
<ellipse cx="352.6" cy="652.3" rx="5.8" ry="11.8" transform="rotate(-10 352.6 652.3)" fill="#fff" stroke-width="2.6"/>
<polygon points="330,644.7 349.4,640.9 355,663.7 335,667.5" fill="#fff" stroke="none"/>
<path d="M330 644.7 L349.6 640.7 M335 667.5 L355 663.7" stroke-width="2.6"/>
<polygon points="305,659.4 309.4,648.7 323.7,644.4 330,646.9 334.6,655.3 335,666.3 332.6,668.8 323.7,673.7 314.4,675 306.1,667.3" fill="#fff" stroke-width="3"/>
<ellipse cx="315.6" cy="660.3" rx="6.6" ry="9.7" transform="rotate(-5 315.6 660.3)" fill="#fff" stroke-width="2.6"/>
<ellipse cx="315.6" cy="660.3" rx="4.6" ry="6.6" transform="rotate(-5 315.6 660.3)" fill="#fff" stroke-width="1.8"/>
<path d="M314.1 656.8 q-1.5 4 0 7 M316.8 656.3 q-1.5 4 0 7" stroke-width="1.3"/>
<path d="M314.8 647.8 L324.6 646.8" stroke-width="2.2"/>
<path d="M324.6 650.3 Q318.6 658.3 322.1 668.3 Q327.6 671.3 332.6 666.3" stroke-width="2.4"/>
<path d="M324.6 650.3 Q332.6 651.3 334.6 661.3" stroke-width="2.4"/>
<ellipse cx="405.4" cy="697" rx="5.8" ry="11.8" transform="rotate(-10 405.4 697)" fill="#fff" stroke-width="2.6"/>
<polygon points="382.8,689.4 402.2,685.6 407.8,708.4 387.8,712.2" fill="#fff" stroke="none"/>
<path d="M382.8 689.4 L402.4 685.4 M387.8 712.2 L407.8 708.4" stroke-width="2.6"/>
<polygon points="357.8,704.1 362.2,693.4 376.5,689.1 382.8,691.6 387.4,700 387.8,711 385.4,713.5 376.5,718.4 367.2,719.7 358.9,712" fill="#fff" stroke-width="3"/>
<ellipse cx="368.4" cy="705" rx="6.6" ry="9.7" transform="rotate(-5 368.4 705)" fill="#fff" stroke-width="2.6"/>
<ellipse cx="368.4" cy="705" rx="4.6" ry="6.6" transform="rotate(-5 368.4 705)" fill="#fff" stroke-width="1.8"/>
<path d="M366.9 701.5 q-1.5 4 0 7 M369.6 701 q-1.5 4 0 7" stroke-width="1.3"/>
<path d="M367.6 692.5 L377.4 691.5" stroke-width="2.2"/>
<path d="M377.4 695 Q371.4 703 374.9 713 Q380.4 716 385.4 711" stroke-width="2.4"/>
<path d="M377.4 695 Q385.4 696 387.4 706" stroke-width="2.4"/>
<polygon points="1453.6,318.4 1462.6,304.8 1466.5,306.2 1460.6,321 1465.3,323.6 1475.8,311.4 1479.1,314 1471.2,328.3 1475,332.5 1486.5,322.2 1489,326 1479.5,339.3 1482.1,344.9 1494.2,337.1 1495.8,341.9 1484.9,353.6 1486.2,360.5 1498.3,355.5 1498.7,361.2 1487,370.7 1486.8,378.5 1498.4,376.7 1497.7,382.9 1485.5,389.8 1483.9,398.2 1494.4,399.5 1492.6,406.1 1480.6,410 1477.5,418.6 1486.6,423 1483.7,429.5 1472.4,430.3 1468.1,438.6 1475.3,445.8 1471.6,452 1461.5,449.7 1456.2,457.3 1461.2,467 1456.9,472.5 1448.4,467.1 1442.5,473.7 1445.1,485.5 1440.4,490.1 1433.9,482 1427.6,487.4 1427.9,500.7 1422.9,504.3 1418.7,493.8 1412.3,497.8 1410.3,512.1 1405.4,514.5 1403.5,502.3 1397.3,504.8 1393.2,519.5 1388.5,520.9 1389,507.2 1383.2,508.3 1377.1,523 1372.9,523.4 1375.6,508.9 1370.4,508.7 1362.7,523 1358.9,522.3 1363.7,507.6 1359.2,506.3 1350.1,519.7 1346.9,518.2 1353.5,503.7 1349.8,501.3 1339.5,513.6 1337,511.4 1345.2,497.4 1342.2,494.3 1331.1,505.2 1329.2,502.5 1338.7,489.4 1336.5,485.6 1324.8,494.9 1323.4,491.8 1334,479.9 1332.5,475.6 1320.6,483.2 1319.7,479.7 1331,469.3 1330.2,464.6 1318.2,470.4 1317.9,466.6 1329.6,457.8 1329.5,452.8 1317.7,456.7 1317.9,452.7 1329.8,445.7 1330.4,440.4 1318.9,442.4 1319.5,438.3 1331.5,433.1 1332.6,427.7 1321.7,427.7 1322.8,423.5 1334.6,420.1 1336.3,414.6 1326.2,412.6 1327.7,408.4 1339.1,407 1341.4,401.5 1332.3,397.4 1334.2,393.2 1344.9,393.8 1347.8,388.3 1339.9,382.3 1342.3,378.1 1352.1,380.7 1355.6,375.3 1349.1,367.4 1352,363.3 1360.7,367.9 1364.8,362.7 1359.9,353 1363.2,349.1 1370.7,355.7 1375.2,350.9 1372.2,339.5 1375.9,336 1381.9,344.4 1386.9,340.1 1385.8,327.4 1389.9,324.2 1394.2,334.5 1399.6,330.8 1400.6,317 1404.9,314.5 1407.4,326.3 1413.1,323.5 1416.2,309 1420.6,307.3 1421.1,320.4 1426.9,318.7 1432.1,304 1436.6,303.2 1434.9,317.3 1440.6,316.9 1447.8,302.4 1452.1,302.7 1448.3,317.4" fill="#fff" stroke-width="2.6"/>
<polygon points="1494.3,429.2 1503.3,433.6 1486.6,423 1477.5,418.6" fill="#fff" stroke-width="2.6"/>
<polygon points="1457.1,500.7 1450.7,492.6 1433.9,482 1440.4,490.1" fill="#fff" stroke-width="2.6"/>
<polygon points="1500.6,408.8 1511.2,410.1 1494.4,399.5 1483.9,398.2" fill="#fff" stroke-width="2.6"/>
<polygon points="1439.7,514.8 1435.5,504.4 1418.7,493.8 1422.9,504.3" fill="#fff" stroke-width="2.6"/>
<polygon points="1503.5,389.1 1515.1,387.2 1498.4,376.7 1486.8,378.5" fill="#fff" stroke-width="2.6"/>
<polygon points="1422.2,525.1 1420.3,512.8 1403.5,502.3 1405.4,514.5" fill="#fff" stroke-width="2.6"/>
<polygon points="1502.9,371.1 1515,366.1 1498.3,355.5 1486.2,360.5" fill="#fff" stroke-width="2.6"/>
<polygon points="1405.3,531.5 1405.8,517.8 1389,507.2 1388.5,520.9" fill="#fff" stroke-width="2.6"/>
<polygon points="1498.9,355.5 1511,347.7 1494.2,337.1 1482.1,344.9" fill="#fff" stroke-width="2.6"/>
<polygon points="1389.7,534 1392.4,519.5 1375.6,508.9 1372.9,523.4" fill="#fff" stroke-width="2.6"/>
<polygon points="1491.8,343.1 1503.3,332.8 1486.5,322.2 1475,332.5" fill="#fff" stroke-width="2.6"/>
<polygon points="1375.7,532.9 1380.5,518.2 1363.7,507.6 1358.9,522.3" fill="#fff" stroke-width="2.6"/>
<polygon points="1363.6,528.8 1370.3,514.2 1353.5,503.7 1346.9,518.2" fill="#fff" stroke-width="2.6"/>
<polygon points="1482.1,334.2 1492.5,322 1475.8,311.4 1465.3,323.6" fill="#fff" stroke-width="2.6"/>
<polygon points="1477.4,331.6 1482.1,334.2 1465.3,323.6 1460.6,321" fill="#fff" stroke-width="2.6"/>
<polygon points="1356.3,524.1 1353.7,522 1337,511.4 1339.5,513.6" fill="#fff" stroke-width="2.6"/>
<polygon points="1353.7,522 1361.9,508 1345.2,497.4 1337,511.4" fill="#fff" stroke-width="2.6"/>
<polygon points="1479.4,315.4 1483.3,316.8 1466.5,306.2 1462.6,304.8" fill="#fff" stroke-width="2.6"/>
<polygon points="1361.9,508 1359,504.9 1342.2,494.3 1345.2,497.4" fill="#fff" stroke-width="2.6"/>
<polygon points="1470.4,329 1479.4,315.4 1462.6,304.8 1453.6,318.4" fill="#fff" stroke-width="2.6"/>
<polygon points="1465,327.9 1470.4,329 1453.6,318.4 1448.3,317.4" fill="#fff" stroke-width="2.6"/>
<polygon points="1347.9,515.7 1345.9,513 1329.2,502.5 1331.1,505.2" fill="#fff" stroke-width="2.6"/>
<polygon points="1345.9,513 1355.4,500 1338.7,489.4 1329.2,502.5" fill="#fff" stroke-width="2.6"/>
<polygon points="1355.4,500 1353.2,496.2 1336.5,485.6 1338.7,489.4" fill="#fff" stroke-width="2.6"/>
<polygon points="1464.6,313 1468.8,313.2 1452.1,302.7 1447.8,302.4" fill="#fff" stroke-width="2.6"/>
<polygon points="1457.4,327.5 1464.6,313 1447.8,302.4 1440.6,316.9" fill="#fff" stroke-width="2.6"/>
<polygon points="1451.7,327.9 1457.4,327.5 1440.6,316.9 1434.9,317.3" fill="#fff" stroke-width="2.6"/>
<polygon points="1341.6,505.5 1340.2,502.3 1323.4,491.8 1324.8,494.9" fill="#fff" stroke-width="2.6"/>
<polygon points="1340.2,502.3 1350.7,490.5 1334,479.9 1323.4,491.8" fill="#fff" stroke-width="2.6"/>
<polygon points="1350.7,490.5 1349.3,486.2 1332.5,475.6 1334,479.9" fill="#fff" stroke-width="2.6"/>
<polygon points="1443.7,329.3 1448.9,314.5 1432.1,304 1426.9,318.7" fill="#fff" stroke-width="2.6"/>
<polygon points="1448.9,314.5 1453.3,313.7 1436.6,303.2 1432.1,304" fill="#fff" stroke-width="2.6"/>
<polygon points="1437.8,331 1443.7,329.3 1426.9,318.7 1421.1,320.4" fill="#fff" stroke-width="2.6"/>
<polygon points="1347.7,479.9 1347,475.1 1330.2,464.6 1331,469.3" fill="#fff" stroke-width="2.6"/>
<polygon points="1336.5,490.3 1347.7,479.9 1331,469.3 1319.7,479.7" fill="#fff" stroke-width="2.6"/>
<polygon points="1337.3,493.8 1336.5,490.3 1319.7,479.7 1320.6,483.2" fill="#fff" stroke-width="2.6"/>
<polygon points="1346.4,468.4 1346.3,463.4 1329.5,452.8 1329.6,457.8" fill="#fff" stroke-width="2.6"/>
<polygon points="1334.6,477.2 1346.4,468.4 1329.6,457.8 1317.9,466.6" fill="#fff" stroke-width="2.6"/>
<polygon points="1424.1,336.9 1429.8,334.1 1413.1,323.5 1407.4,326.3" fill="#fff" stroke-width="2.6"/>
<polygon points="1429.8,334.1 1432.9,319.6 1416.2,309 1413.1,323.5" fill="#fff" stroke-width="2.6"/>
<polygon points="1335,480.9 1334.6,477.2 1317.9,466.6 1318.2,470.4" fill="#fff" stroke-width="2.6"/>
<polygon points="1432.9,319.6 1437.4,317.9 1420.6,307.3 1416.2,309" fill="#fff" stroke-width="2.6"/>
<polygon points="1346.6,456.3 1347.1,451 1330.4,440.4 1329.8,445.7" fill="#fff" stroke-width="2.6"/>
<polygon points="1334.6,463.3 1346.6,456.3 1329.8,445.7 1317.9,452.7" fill="#fff" stroke-width="2.6"/>
<polygon points="1410.9,345.1 1416.4,341.4 1399.6,330.8 1394.2,334.5" fill="#fff" stroke-width="2.6"/>
<polygon points="1334.4,467.3 1334.6,463.3 1317.9,452.7 1317.7,456.7" fill="#fff" stroke-width="2.6"/>
<polygon points="1416.4,341.4 1417.3,327.6 1400.6,317 1399.6,330.8" fill="#fff" stroke-width="2.6"/>
<polygon points="1348.3,443.6 1349.4,438.2 1332.6,427.7 1331.5,433.1" fill="#fff" stroke-width="2.6"/>
<polygon points="1417.3,327.6 1421.6,325.1 1404.9,314.5 1400.6,317" fill="#fff" stroke-width="2.6"/>
<polygon points="1336.3,448.9 1348.3,443.6 1331.5,433.1 1319.5,438.3" fill="#fff" stroke-width="2.6"/>
<polygon points="1398.6,355 1403.7,350.7 1386.9,340.1 1381.9,344.4" fill="#fff" stroke-width="2.6"/>
<polygon points="1351.3,430.7 1353,425.2 1336.3,414.6 1334.6,420.1" fill="#fff" stroke-width="2.6"/>
<polygon points="1335.6,453 1336.3,448.9 1319.5,438.3 1318.9,442.4" fill="#fff" stroke-width="2.6"/>
<polygon points="1403.7,350.7 1402.6,337.9 1385.8,327.4 1386.9,340.1" fill="#fff" stroke-width="2.6"/>
<polygon points="1387.4,366.3 1392,361.4 1375.2,350.9 1370.7,355.7" fill="#fff" stroke-width="2.6"/>
<polygon points="1355.8,417.6 1358.1,412 1341.4,401.5 1339.1,407" fill="#fff" stroke-width="2.6"/>
<polygon points="1339.6,434.1 1351.3,430.7 1334.6,420.1 1322.8,423.5" fill="#fff" stroke-width="2.6"/>
<polygon points="1402.6,337.9 1406.6,334.8 1389.9,324.2 1385.8,327.4" fill="#fff" stroke-width="2.6"/>
<polygon points="1377.5,378.5 1381.5,373.3 1364.8,362.7 1360.7,367.9" fill="#fff" stroke-width="2.6"/>
<polygon points="1361.7,404.4 1364.5,398.9 1347.8,388.3 1344.9,393.8" fill="#fff" stroke-width="2.6"/>
<polygon points="1368.9,391.3 1372.3,385.9 1355.6,375.3 1352.1,380.7" fill="#fff" stroke-width="2.6"/>
<polygon points="1392,361.4 1388.9,350.1 1372.2,339.5 1375.2,350.9" fill="#fff" stroke-width="2.6"/>
<polygon points="1338.5,438.2 1339.6,434.1 1322.8,423.5 1321.7,427.7" fill="#fff" stroke-width="2.6"/>
<polygon points="1344.5,419 1355.8,417.6 1339.1,407 1327.7,408.4" fill="#fff" stroke-width="2.6"/>
<polygon points="1381.5,373.3 1376.7,363.6 1359.9,353 1364.8,362.7" fill="#fff" stroke-width="2.6"/>
<polygon points="1351,403.8 1361.7,404.4 1344.9,393.8 1334.2,393.2" fill="#fff" stroke-width="2.6"/>
<polygon points="1388.9,350.1 1392.6,346.6 1375.9,336 1372.2,339.5" fill="#fff" stroke-width="2.6"/>
<polygon points="1368.7,373.9 1377.5,378.5 1360.7,367.9 1352,363.3" fill="#fff" stroke-width="2.6"/>
<polygon points="1364.5,398.9 1356.6,392.9 1339.9,382.3 1347.8,388.3" fill="#fff" stroke-width="2.6"/>
<polygon points="1372.3,385.9 1365.9,378 1349.1,367.4 1355.6,375.3" fill="#fff" stroke-width="2.6"/>
<polygon points="1359.1,388.7 1368.9,391.3 1352.1,380.7 1342.3,378.1" fill="#fff" stroke-width="2.6"/>
<polygon points="1343,423.2 1344.5,419 1327.7,408.4 1326.2,412.6" fill="#fff" stroke-width="2.6"/>
<polygon points="1376.7,363.6 1379.9,359.7 1363.2,349.1 1359.9,353" fill="#fff" stroke-width="2.6"/>
<polygon points="1349,408 1351,403.8 1334.2,393.2 1332.3,397.4" fill="#fff" stroke-width="2.6"/>
<polygon points="1365.9,378 1368.7,373.9 1352,363.3 1349.1,367.4" fill="#fff" stroke-width="2.6"/>
<polygon points="1356.6,392.9 1359.1,388.7 1342.3,378.1 1339.9,382.3" fill="#fff" stroke-width="2.6"/>
<path d="M1331 381 Q1330 366 1342 365 Q1352 366 1354 376 L1350 392 L1336 393 Q1331 389 1331 381 Z" fill="#fff" stroke-width="2.6"/>
<polygon points="1470.4,329 1479.4,315.4 1483.3,316.8 1477.4,331.6 1482.1,334.2 1492.5,322 1495.8,324.6 1488,338.9 1491.8,343.1 1503.3,332.8 1505.8,336.6 1496.3,349.9 1498.9,355.5 1511,347.7 1512.5,352.5 1501.6,364.2 1502.9,371.1 1515,366.1 1515.5,371.8 1503.7,381.3 1503.5,389.1 1515.1,387.2 1514.4,393.5 1502.3,400.4 1500.6,408.8 1511.2,410.1 1509.4,416.7 1497.3,420.6 1494.3,429.2 1503.3,433.6 1500.5,440.1 1489.2,440.9 1484.9,449.2 1492,456.4 1488.3,462.6 1478.2,460.2 1473,467.9 1478,477.6 1473.6,483.1 1465.2,477.7 1459.2,484.3 1461.9,496.1 1457.1,500.7 1450.7,492.6 1444.3,498 1444.6,511.3 1439.7,514.8 1435.5,504.4 1429.1,508.4 1427,522.6 1422.2,525.1 1420.3,512.8 1414.1,515.4 1409.9,530.1 1405.3,531.5 1405.8,517.8 1400,518.9 1393.9,533.6 1389.7,534 1392.4,519.5 1387.2,519.3 1379.4,533.6 1375.7,532.9 1380.5,518.2 1376,516.8 1366.8,530.2 1363.6,528.8 1370.3,514.2 1366.5,511.9 1356.3,524.1 1353.7,522 1361.9,508 1359,504.9 1347.9,515.7 1345.9,513 1355.4,500 1353.2,496.2 1341.6,505.5 1340.2,502.3 1350.7,490.5 1349.3,486.2 1337.3,493.8 1336.5,490.3 1347.7,479.9 1347,475.1 1335,480.9 1334.6,477.2 1346.4,468.4 1346.3,463.4 1334.4,467.3 1334.6,463.3 1346.6,456.3 1347.1,451 1335.6,453 1336.3,448.9 1348.3,443.6 1349.4,438.2 1338.5,438.2 1339.6,434.1 1351.3,430.7 1353,425.2 1343,423.2 1344.5,419 1355.8,417.6 1358.1,412 1349,408 1351,403.8 1361.7,404.4 1364.5,398.9 1356.6,392.9 1359.1,388.7 1368.9,391.3 1372.3,385.9 1365.9,378 1368.7,373.9 1377.5,378.5 1381.5,373.3 1376.7,363.6 1379.9,359.7 1387.4,366.3 1392,361.4 1388.9,350.1 1392.6,346.6 1398.6,355 1403.7,350.7 1402.6,337.9 1406.6,334.8 1410.9,345.1 1416.4,341.4 1417.3,327.6 1421.6,325.1 1424.1,336.9 1429.8,334.1 1432.9,319.6 1437.4,317.9 1437.8,331 1443.7,329.3 1448.9,314.5 1453.3,313.7 1451.7,327.9 1457.4,327.5 1464.6,313 1468.8,313.2 1465,327.9" fill="#fff" stroke-width="2.6"/>
<ellipse cx="1455" cy="358" rx="17" ry="20.5" transform="rotate(12 1455 358)" fill="#fff" stroke-width="2.6"/>
<ellipse cx="1458" cy="357" rx="17" ry="20.5" transform="rotate(12 1458 357)" fill="#fff" stroke-width="1.5"/>
<ellipse cx="1461.9" cy="356.3" rx="16.9" ry="20" transform="rotate(12 1461.9 356.3)" fill="#fff" stroke-width="2.6"/>
<path d="M1477 356 L1488 362 Q1491 365 1488 367 L1476 362 Z" fill="#fff" stroke-width="2.6"/>
<path d="M1452 380 L1485 372 L1486 387 L1492.5 390 L1491 410 L1460 412 L1452 411 L1447 406 L1446 386 Z" fill="#fff" stroke-width="2.6"/>
<path d="M1452 381 Q1450 372 1460 372 L1485 372" fill="none" stroke-width="2.6"/>
<path d="M1461 403 L1487 389 M1461 406 L1489 392" stroke-width="1.6"/>
<path d="M1453 390 L1459 390 L1459 412 M1455 393 L1455 412" stroke-width="1.8"/>
<path d="M1393 405 Q1394 396 1402 395 Q1410 395 1415 400 Q1418 406 1417 412 Q1414 418 1406 419 Q1398 416 1394 411 Z" fill="#000" stroke-width="1.5"/>
<path d="M1397 408 Q1397 400 1402 397.5" stroke="#fff" stroke-width="1.3"/>
<path d="M1401.5 411 Q1401 404 1406 402" stroke="#fff" stroke-width="1.3"/>
<ellipse cx="1409" cy="410" rx="5.2" ry="7.6" transform="rotate(30 1409 410)" fill="#fff" stroke-width="2.4"/>
<path d="M1361 466 L1387 427 Q1391 423 1396 428 L1387 452 Q1386 456 1390 456 L1402 455 Q1408 447 1416 446 L1448 452 L1450 470 Q1420 478 1385 478 Q1366 477 1362 471 Z" fill="#fff" stroke-width="2.6"/>
<path d="M1364 467 L1389 430" stroke-width="1.4"/>
<path d="M1392 460 L1404 458 Q1410 451 1416 450 L1440 456" stroke-width="1.4"/>
<path d="M1412 433 Q1408 414 1422 407 Q1433 402 1447 411 L1470 418 L1475 455 L1440 462 Q1418 448 1412 433 Z" fill="#fff" stroke-width="2.6"/>
<path d="M1433 458 Q1430 437 1448 428 Q1470 422 1491 419 Q1500 418 1503 425 Q1505 433 1497 440 L1480 452 L1455 468 Q1440 468 1433 458 Z" fill="#fff" stroke-width="2.6"/>
<path d="M1470 471 Q1452 470 1449 455 Q1448 438 1458 432 Q1466 428 1476 430 L1490 445 L1480 470 Z" fill="#fff" stroke-width="2.6"/>
<path d="M1476 432 Q1462 432 1457 442 Q1454 452 1458 462 Q1463 468 1472 468" stroke-width="1.8"/>
<polygon points="1476.5,431 1512,453.5 1496,479 1462,461" fill="#fff" stroke="none"/>
<path d="M1476.5 431 L1512 453.5 M1462 461 L1496 479" stroke-width="2.6"/>
<path d="M1476 432 Q1466 440 1463 452 Q1461 458 1462 461" stroke-width="2.6"/>
<path d="M1495 478 Q1496 458 1514 451 L1544 462 Q1550 468 1547 478 L1540 505 Q1534 515 1522 515 Q1505 508 1498 492 Z" fill="#fff" stroke-width="2.6"/>
<path d="M1535 463 Q1520 463 1514 475 Q1511 488 1514 497 Q1519 508 1532 512" stroke-width="2.6"/>
<path d="M1538 467 Q1525 467 1519 478 Q1517 489 1519 497 Q1524 506 1535 509" stroke-width="1.6"/>
<polygon points="1560.6,480.2 1546.6,471.7 1527.4,503.3 1541.4,511.8" fill="#fff" stroke="none"/>
<line x1="1560.6" y1="480.2" x2="1546.6" y2="471.7" stroke-width="2.6"/>
<line x1="1527.4" y1="503.3" x2="1541.4" y2="511.8" stroke-width="2.6"/>
<ellipse cx="1551" cy="496" rx="7.8" ry="18.5" transform="rotate(-148.7 1551 496)" fill="#fff" stroke-width="2.6"/>
<ellipse cx="1547" cy="493.5" rx="7.5" ry="17" transform="rotate(32.6 1547 493.5)" fill="none" stroke-width="1.5"/>
<polygon points="1574.7,494.7 1557,485 1545,507 1562.7,516.7" fill="#fff" stroke="none"/>
<line x1="1574.7" y1="494.7" x2="1557" y2="485" stroke-width="2.6"/>
<line x1="1545" y1="507" x2="1562.7" y2="516.7" stroke-width="2.6"/>
<ellipse cx="1568.7" cy="505.7" rx="7.5" ry="12.5" transform="rotate(-151.3 1568.7 505.7)" fill="#fff" stroke-width="2.6"/>
<ellipse cx="1569.5" cy="506.3" rx="5" ry="9" transform="rotate(32.6 1569.5 506.3)" fill="#fff" stroke-width="1.5"/>
<ellipse cx="1570.5" cy="507" rx="2.2" ry="3" transform="rotate(32.6 1570.5 507)" fill="#fff" stroke-width="1.5"/>
<path d="M785 560 Q788 551 797 551 L808 551 L875 591.5 Q883 597 884.5 606 Q884 615 880 625 L868.8 649.4 L854.7 675.9 Q851 682 846.9 682.2 Q843 682 840.6 680.6 L825 671.2 Q820 664 817.2 655.6 Q814 649 811 646.2 Q806 641 800 641.6 Q795 643 790.6 644.7 Q785 646 779.7 644.7 L762.5 633.7 Q757 629 759.4 624.4 Z" fill="#fff" stroke-width="2.6"/>
<path d="M805 554 L873 595 Q880 600 881 607 Q881 615 877 623 L851 676" stroke-width="1.4"/>
<ellipse cx="798.4" cy="566.6" rx="5" ry="6.6" transform="rotate(-10 798.4 566.6)" fill="#fff" stroke-width="2.6"/>
<ellipse cx="799.5" cy="566.8" rx="2.2" ry="4" transform="rotate(-10 799.5 566.8)" fill="#fff" stroke-width="1.4"/>
<ellipse cx="864.8" cy="608.8" rx="5.5" ry="7" transform="rotate(-10 864.8 608.8)" fill="#fff" stroke-width="2.6"/>
<ellipse cx="866" cy="609" rx="2.4" ry="4.2" transform="rotate(-10 866 609)" fill="#fff" stroke-width="1.4"/>
<line x1="786" y1="603" x2="775" y2="630" stroke-width="8.5"/>
<line x1="786" y1="603" x2="776" y2="628" stroke="#fff" stroke-width="3.2"/>
<ellipse cx="787" cy="600" rx="6.2" ry="8.5" transform="rotate(15 787 600)" fill="#fff" stroke-width="2.6"/>
<path d="M786 606 L784.5 609" stroke="#fff" stroke-width="3.2"/>
<path d="M783 597 Q783 606 781 611" stroke-width="1.5"/>
<ellipse cx="774" cy="631" rx="5.5" ry="4" transform="rotate(20 774 631)" fill="#000" stroke-width="1.5"/>
<line x1="848.5" y1="641" x2="836" y2="668" stroke-width="8.5"/>
<line x1="848.5" y1="641" x2="837" y2="666" stroke="#fff" stroke-width="3.2"/>
<ellipse cx="849.5" cy="638" rx="6.2" ry="8.5" transform="rotate(15 849.5 638)" fill="#fff" stroke-width="2.6"/>
<path d="M848.5 644 L847 647" stroke="#fff" stroke-width="3.2"/>
<path d="M845.5 635 Q845.5 644 843.5 649" stroke-width="1.5"/>
<ellipse cx="835" cy="669" rx="5.5" ry="4" transform="rotate(20 835 669)" fill="#000" stroke-width="1.5"/>
<path d="M836.2 588.9 A5.5 5.5 0 0 0 825.6 585.7 Q822.7 606.2 812.7 594.8 A5.5 5.5 0 0 0 806.2 603.7 Q820.2 611.1 810.3 630.9 A5.5 5.5 0 0 0 820.6 634.8 Q825.4 613.8 836.5 623.2 A5.5 5.5 0 0 0 841.8 613.5 Q827.7 608.5 836.2 588.9 Z" fill="#fff" stroke-width="2.6"/>
<path d="M838 586 L835 601 Q836 607 840 612 L845 619" stroke-width="1.4"/>
<path d="M478.4 612 Q493 614 492 628 Q491 644 481.4 644 Z" fill="#fff" stroke-width="2.6"/>
<path d="M472.4 564 Q478 559 489 563 Q497 567 495.5 579 L484.5 592.8 Q477 605 478.4 620 Q480 638 472 648 Q458 662 451.2 693.9 Q440 697 437.7 695.4 L435.4 686.4 L426.3 684.9 Q425 660 428.6 653.2 Q435 625 447 597 Q460 575 472.4 564 Z" fill="#fff" stroke-width="2.6"/>
<path d="M474 568 Q443 606 430.5 681" stroke-width="1.4"/>
<path d="M482 566 Q453 603 437 688" stroke-width="2.2"/>
<path d="M490 568 Q463 610 443 694" stroke-width="2"/>
<path d="M482 562.5 Q494 562 496 576" stroke-width="3.2"/>
<ellipse cx="458.5" cy="631" rx="2.6" ry="6.5" transform="rotate(22 458.5 631)" fill="#000" stroke-width="1.2"/>
<path d="M533.4 656 Q548 658 547 672 Q546 688 536.4 688 Z" fill="#fff" stroke-width="2.6"/>
<path d="M527.4 608 Q533 603 544 607 Q552 611 550.5 623 L539.5 636.8 Q532 649 533.4 664 Q535 682 527 692 Q513 706 506.2 737.9 Q495 741 492.7 739.4 L490.4 730.4 L481.3 728.9 Q480 704 483.6 697.2 Q490 669 502 641 Q515 619 527.4 608 Z" fill="#fff" stroke-width="2.6"/>
<path d="M529 612 Q498 650 485.5 725" stroke-width="1.4"/>
<path d="M537 610 Q508 647 492 732" stroke-width="2.2"/>
<path d="M545 612 Q518 654 498 738" stroke-width="2"/>
<path d="M537 606.5 Q549 606 551 620" stroke-width="3.2"/>
<ellipse cx="513.5" cy="675" rx="2.6" ry="6.5" transform="rotate(22 513.5 675)" fill="#000" stroke-width="1.2"/>
<polygon points="1568.1,385.7 1610.1,368.7 1603.9,353.3 1561.9,370.3" fill="#000" stroke="none"/>
<polyline points="1568.1,385.7 1568.9,385.2 1569.6,384.6 1570.1,383.7 1570.5,382.6 1570.8,381.4 1570.9,380.1 1570.8,378.7 1570.7,377.3 1570.3,375.8 1569.9,374.5 1569.4,373.2 1568.8,372 1568.1,371 1567.4,370.2 1566.7,369.5 1566.1,369.2 1565.4,369 1564.9,369.1 1564.4,369.4 1564.1,370 1563.9,370.7 1563.8,371.6 1563.9,372.7 1564.1,373.9 1564.5,375.1 1565,376.4 1565.7,377.7 1566.4,379 1567.3,380.1 1568.2,381.2 1569.2,382 1570.2,382.7 1571.3,383.2 1572.3,383.5 1573.2,383.5 1574.1,383.3 1574.9,382.8 1575.6,382.1 1576.1,381.3 1576.5,380.2 1576.8,379 1576.9,377.7 1576.8,376.3 1576.7,374.8 1576.3,373.4 1575.9,372 1575.4,370.7 1574.8,369.6 1574.1,368.6 1573.4,367.7 1572.7,367.1 1572.1,366.7 1571.4,366.6 1570.9,366.7 1570.4,367 1570.1,367.5 1569.9,368.3 1569.8,369.2 1569.9,370.3 1570.1,371.5 1570.5,372.7 1571,374 1571.7,375.3 1572.4,376.6 1573.3,377.7 1574.2,378.7 1575.2,379.6 1576.2,380.3 1577.3,380.8 1578.3,381 1579.2,381.1 1580.1,380.8 1580.9,380.4 1581.6,379.7 1582.1,378.8 1582.5,377.8 1582.8,376.6 1582.9,375.2 1582.8,373.8 1582.7,372.4 1582.3,371 1581.9,369.6 1581.4,368.3 1580.8,367.1 1580.1,366.1 1579.4,365.3 1578.7,364.7 1578.1,364.3 1577.4,364.1 1576.9,364.2 1576.4,364.6 1576.1,365.1 1575.9,365.8 1575.8,366.8 1575.9,367.8 1576.1,369 1576.5,370.3 1577,371.6 1577.7,372.9 1578.4,374.1 1579.3,375.3 1580.2,376.3 1581.2,377.2 1582.2,377.9 1583.3,378.4 1584.3,378.6 1585.2,378.6 1586.1,378.4 1586.9,378 1587.6,377.3 1588.1,376.4 1588.5,375.3 1588.8,374.1 1588.9,372.8 1588.8,371.4 1588.7,370 1588.3,368.6 1587.9,367.2 1587.4,365.9 1586.8,364.7 1586.1,363.7 1585.4,362.9 1584.7,362.3 1584.1,361.9 1583.4,361.7 1582.9,361.8 1582.4,362.1 1582.1,362.7 1581.9,363.4 1581.8,364.3 1581.9,365.4 1582.1,366.6 1582.5,367.9 1583,369.2 1583.7,370.4 1584.4,371.7 1585.3,372.9 1586.2,373.9 1587.2,374.8 1588.2,375.5 1589.3,375.9 1590.3,376.2 1591.2,376.2 1592.1,376 1592.9,375.5 1593.6,374.8 1594.1,374 1594.5,372.9 1594.8,371.7 1594.9,370.4 1594.8,369 1594.7,367.5 1594.3,366.1 1593.9,364.7 1593.4,363.4 1592.8,362.3 1592.1,361.3 1591.4,360.4 1590.7,359.8 1590.1,359.4 1589.4,359.3 1588.9,359.4 1588.4,359.7 1588.1,360.2 1587.9,361 1587.8,361.9 1587.9,363 1588.1,364.2 1588.5,365.4 1589,366.7 1589.7,368 1590.4,369.3 1591.3,370.4 1592.2,371.5 1593.2,372.3 1594.2,373 1595.3,373.5 1596.3,373.8 1597.2,373.8 1598.1,373.6 1598.9,373.1 1599.6,372.4 1600.1,371.5 1600.5,370.5 1600.8,369.3 1600.9,368 1600.8,366.6 1600.7,365.1 1600.3,363.7 1599.9,362.3 1599.4,361 1598.8,359.9 1598.1,358.8 1597.4,358 1596.7,357.4 1596.1,357 1595.4,356.9 1594.9,356.9 1594.4,357.3 1594.1,357.8 1593.9,358.6 1593.8,359.5 1593.9,360.6 1594.1,361.7 1594.5,363 1595,364.3 1595.7,365.6 1596.4,366.8 1597.3,368 1598.2,369 1599.2,369.9 1600.2,370.6 1601.3,371.1 1602.3,371.3 1603.2,371.3 1604.1,371.1 1604.9,370.7 1605.6,370 1606.1,369.1 1606.5,368.1 1606.8,366.8 1606.9,365.5 1606.8,364.1 1606.7,362.7 1606.3,361.3 1605.9,359.9 1605.4,358.6 1604.8,357.4 1604.1,356.4 1603.4,355.6 1602.7,355 1602.1,354.6 1601.4,354.4 1600.9,354.5 1600.4,354.8 1600.1,355.4 1599.9,356.1 1599.8,357.1 1599.9,358.1 1600.1,359.3 1600.5,360.6 1601,361.9 1601.7,363.2 1602.4,364.4 1603.3,365.6 1604.2,366.6 1605.2,367.5 1606.2,368.2 1607.3,368.6 1608.3,368.9 1609.2,368.9 1610.1,368.7" stroke-width="4.6"/>
<path d="M1570.8 369.2 q6 4.1 4.5 11.1" stroke="#fff" stroke-width="1"/>
<path d="M1576.8 366.8 q6 4.1 4.5 11.1" stroke="#fff" stroke-width="1"/>
<path d="M1582.8 364.3 q6 4.1 4.5 11.1" stroke="#fff" stroke-width="1"/>
<path d="M1588.8 361.9 q6 4.1 4.5 11.1" stroke="#fff" stroke-width="1"/>
<path d="M1594.8 359.5 q6 4.1 4.5 11.1" stroke="#fff" stroke-width="1"/>
<path d="M1600.8 357 q6 4.1 4.5 11.1" stroke="#fff" stroke-width="1"/>
<path d="M1566 376 Q1560 382 1556 385 Q1552 390 1544 392 Q1536 393 1537 385 Q1539 377 1548 378 L1556 384" stroke-width="4.5"/>
<path d="M1566 376 Q1560 382 1556 385 Q1552 390 1544 392 Q1536 393 1537 385 Q1539 377 1548 378 L1556 384" stroke="#fff" stroke-width="1.1"/>
<path d="M1605 360 Q1610 350 1616 349.5 Q1622 351 1620 357 Q1618 363 1614 365" stroke-width="4.5"/>
<path d="M1605 360 Q1610 350 1616 349.5 Q1622 351 1620 357 Q1618 363 1614 365" stroke="#fff" stroke-width="1.1"/>
<polygon points="1787.1,45.6 1797.5,66.2 1801.2,66.2 1831.6,50 1835,49.4 1838.7,52.5 1846.9,26.9 1821.2,20 1821.9,25.6" fill="#000" stroke="#000" stroke-width="1"/>
<circle cx="1788.3" cy="67.5" r="4" fill="#000" stroke="none"/>
<text x="0" y="0" font-size="31" font-weight="bold" fill="#000" stroke="#000" stroke-width="1.2" transform="translate(1745 94.5) rotate(-28)">FR</text>
<text x="1493.5" y="940.5" font-family="Liberation Serif" font-size="28" fill="#000" stroke="#000" stroke-width="0.7" textLength="67.5" lengthAdjust="spacingAndGlyphs">YB58</text>
<line x1="1566" y1="931" x2="1585" y2="931" stroke-width="1.6"/>
<text x="1589" y="940.5" font-family="Liberation Serif" font-size="28" fill="#000" stroke="#000" stroke-width="0.7" textLength="80" lengthAdjust="spacingAndGlyphs">E0900</text>
<line x1="1497" y1="194" x2="1497" y2="236" stroke-width="2"/>
<line x1="1424" y1="250" x2="1581" y2="223" stroke-width="2"/>
<line x1="1424" y1="249" x2="1424" y2="318" stroke-width="2"/>
<line x1="1580" y1="223" x2="1580" y2="271" stroke-width="2"/>
<line x1="1579.8" y1="303.5" x2="1579.8" y2="359" stroke-width="2"/>
<line x1="1106.2" y1="219.3" x2="1106.2" y2="274" stroke-width="2"/>
<line x1="941.9" y1="244.4" x2="941.9" y2="289" stroke-width="2"/>
<line x1="855.6" y1="254" x2="855.6" y2="312" stroke-width="2"/>
<line x1="801.9" y1="270.6" x2="801.9" y2="326" stroke-width="2"/>
<line x1="1134" y1="344" x2="1134" y2="395" stroke-width="2"/>
<line x1="846.7" y1="418" x2="846.7" y2="435" stroke-width="2"/>
<line x1="935.4" y1="397" x2="935.4" y2="414" stroke-width="2"/>
<line x1="1022" y1="378.6" x2="1022" y2="393.5" stroke-width="2"/>
<line x1="1040.8" y1="479.5" x2="1040.8" y2="518" stroke-width="2"/>
<line x1="1041.2" y1="579" x2="1041.2" y2="629.3" stroke-width="2"/>
<line x1="1198.6" y1="431" x2="1198.6" y2="474" stroke-width="2"/>
<line x1="1260.5" y1="558.6" x2="1260.5" y2="592.1" stroke-width="2"/>
<line x1="461.4" y1="522.5" x2="461.4" y2="574" stroke-width="2"/>
<line x1="542.6" y1="557.7" x2="542.6" y2="609" stroke-width="2"/>
<line x1="621.5" y1="538.4" x2="621.5" y2="595" stroke-width="2"/>
<line x1="676.7" y1="653.4" x2="676.7" y2="689.4" stroke-width="2"/>
<line x1="845.3" y1="684" x2="845.3" y2="722" stroke-width="2"/>
<line x1="271.1" y1="601.4" x2="271.1" y2="654.2" stroke-width="2"/>
<line x1="336.9" y1="586.5" x2="336.9" y2="643.4" stroke-width="2"/>
<line x1="329.3" y1="731" x2="329.3" y2="765.2" stroke-width="2"/>
<line x1="399.7" y1="709.7" x2="399.7" y2="750.3" stroke-width="2"/>
<path d="M1496.5 188 L1496.5 172.7 L1492 172.7 L1492 170.4 C1495.5 170.2 1496.5 168.1 1497 167 L1500.2 167 L1500.2 188 Z" fill="#000" stroke="none"/>
<text x="1580.8" y="298.5" font-size="28.9" text-anchor="middle" fill="#000" stroke="#000" stroke-width="0.8">6</text>
<text x="1106.2" y="213.5" font-size="29.6" text-anchor="middle" fill="#000" stroke="#000" stroke-width="0.8">8</text>
<text x="941.6" y="240" font-size="31" text-anchor="middle" fill="#000" stroke="#000" stroke-width="0.8">9</text>
<path d="M848.2 248.5 L848.2 232.8 L843.8 232.8 L843.8 230.4 C847.2 230.2 848.2 228.1 848.8 227 L852 227 L852 248.5 Z" fill="#000" stroke="none"/>
<path d="M865.8 248.5 L865.8 232.8 L861.2 232.8 L861.2 230.4 C864.8 230.2 865.8 228.1 866.2 227 L869.5 227 L869.5 248.5 Z" fill="#000" stroke="none"/>
<path d="M793.4 267 L793.4 250.9 L788.9 250.9 L788.9 248.5 C792.4 248.3 793.4 246.1 793.9 245 L797.1 245 L797.1 267 Z" fill="#000" stroke="none"/>
<text x="819" y="267" font-size="31" text-anchor="end" fill="#000" stroke="#000" stroke-width="0.8" transform="translate(818 0) scale(0.95 1) translate(-818 0)">2</text>
<path d="M1012.3 421.2 L1012.3 405.4 L1007.8 405.4 L1007.8 403.1 C1011.3 402.8 1012.3 400.7 1012.8 399.6 L1016 399.6 L1016 421.2 Z" fill="#000" stroke="none"/>
<text x="1038" y="421.2" font-size="30.4" text-anchor="end" fill="#000" stroke="#000" stroke-width="0.8" transform="translate(1037 0) scale(0.95 1) translate(-1037 0)">6</text>
<text x="1133.8" y="421.7" font-size="30.6" text-anchor="middle" fill="#000" stroke="#000" stroke-width="0.8">7</text>
<path d="M840.4 462.5 L840.4 447.2 L835.9 447.2 L835.9 444.9 C839.4 444.7 840.4 442.6 840.9 441.6 L844.1 441.6 L844.1 462.5 Z" fill="#000" stroke="none"/>
<text x="867.4" y="462.5" font-size="29.4" text-anchor="end" fill="#000" stroke="#000" stroke-width="0.8" transform="translate(866.4 0) scale(0.95 1) translate(-866.4 0)">0</text>
<text x="938.1" y="441" font-size="29.6" text-anchor="middle" fill="#000" stroke="#000" stroke-width="0.8">9</text>
<text x="1197" y="425" font-size="29.6" text-anchor="middle" fill="#000" stroke="#000" stroke-width="0.8">4</text>
<text x="1042.8" y="473.5" font-size="28.6" text-anchor="middle" fill="#000" stroke="#000" stroke-width="0.8">2</text>
<text x="1259.8" y="619.7" font-size="27" text-anchor="middle" fill="#000" stroke="#000" stroke-width="0.8">4</text>
<text x="1042.5" y="654.4" font-size="28.7" text-anchor="middle" fill="#000" stroke="#000" stroke-width="0.8">2</text>
<text x="460.8" y="515.7" font-size="28.6" text-anchor="middle" fill="#000" stroke="#000" stroke-width="0.8">3</text>
<text x="542.9" y="549.6" font-size="28.6" text-anchor="middle" fill="#000" stroke="#000" stroke-width="0.8">3</text>
<path d="M610.5 533.6 L610.5 518.7 L606 518.7 L606 516.5 C609.5 516.3 610.5 514.2 611 513.2 L614.2 513.2 L614.2 533.6 Z" fill="#000" stroke="none"/>
<text x="636.9" y="533.6" font-size="28.7" text-anchor="end" fill="#000" stroke="#000" stroke-width="0.8" transform="translate(635.9 0) scale(0.95 1) translate(-635.9 0)">4</text>
<path d="M668 718.1 L668 704.2 L663.5 704.2 L663.5 702.1 C667 701.9 668 700 668.5 699 L671.7 699 L671.7 718.1 Z" fill="#000" stroke="none"/>
<text x="693.2" y="718.1" font-size="26.9" text-anchor="end" fill="#000" stroke="#000" stroke-width="0.8" transform="translate(692.2 0) scale(0.95 1) translate(-692.2 0)">4</text>
<path d="M833.5 749 L833.5 733.7 L829 733.7 L829 731.4 C832.5 731.1 833.5 729 834 728 L837.2 728 L837.2 749 Z" fill="#000" stroke="none"/>
<text x="861" y="749" font-size="29.6" text-anchor="end" fill="#000" stroke="#000" stroke-width="0.8" transform="translate(860 0) scale(0.95 1) translate(-860 0)">3</text>
<path d="M263.5 596 L263.5 581.2 L259 581.2 L259 578.9 C262.5 578.7 263.5 576.7 264 575.7 L267.2 575.7 L267.2 596 Z" fill="#000" stroke="none"/>
<text x="288.4" y="596" font-size="28.6" text-anchor="end" fill="#000" stroke="#000" stroke-width="0.8" transform="translate(287.4 0) scale(0.95 1) translate(-287.4 0)">5</text>
<text x="338.1" y="578.4" font-size="28.6" text-anchor="middle" fill="#000" stroke="#000" stroke-width="0.8">5</text>
<path d="M321.6 792.2 L321.6 777.5 L317.1 777.5 L317.1 775.2 C320.6 775 321.6 773 322.1 772 L325.3 772 L325.3 792.2 Z" fill="#000" stroke="none"/>
<text x="346.5" y="792.2" font-size="28.5" text-anchor="end" fill="#000" stroke="#000" stroke-width="0.8" transform="translate(345.5 0) scale(0.95 1) translate(-345.5 0)">5</text>
<text x="399.6" y="774.6" font-size="26.6" text-anchor="middle" fill="#000" stroke="#000" stroke-width="0.8">5</text>
</g></svg></body></html>
